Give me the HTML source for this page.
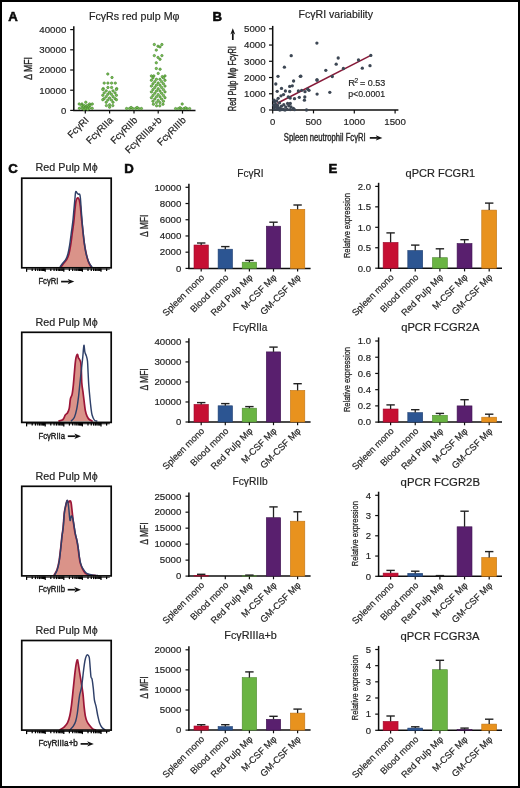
<!DOCTYPE html>
<html><head><meta charset="utf-8"><title>Figure</title>
<style>
html,body{margin:0;padding:0;background:#fff;}
body{width:520px;height:788px;overflow:hidden;}
svg{display:block;font-family:"Liberation Sans", sans-serif;filter:blur(0.35px);}
</style></head><body>
<svg width="520" height="788" viewBox="0 0 520 788">
<rect x="0" y="0" width="520" height="788" fill="#fff"/>
<rect x="1" y="1" width="518" height="786" fill="none" stroke="#000" stroke-width="2"/>
<text x="8.20" y="21.00" font-size="13.2" text-anchor="start" fill="#0a0a0a" font-weight="bold" stroke="#0a0a0a" stroke-width="0.55">A</text>
<text x="134.20" y="19.80" font-size="10.7" text-anchor="middle" fill="#232323" textLength="90.50" lengthAdjust="spacingAndGlyphs"  stroke="#232323" stroke-width="0.18">FcγRs red pulp Mφ</text>
<line x1="73.80" y1="26.30" x2="73.80" y2="110.70" stroke="#0e0e0e" stroke-width="1.5" />
<line x1="73.10" y1="110.40" x2="195.50" y2="110.40" stroke="#0e0e0e" stroke-width="1.5" />
<line x1="70.20" y1="110.40" x2="73.80" y2="110.40" stroke="#0e0e0e" stroke-width="1.2" />
<text x="66.30" y="113.70" font-size="9.5" text-anchor="end" fill="#232323"  stroke="#232323" stroke-width="0.18">0</text>
<line x1="70.20" y1="90.20" x2="73.80" y2="90.20" stroke="#0e0e0e" stroke-width="1.2" />
<text x="66.30" y="93.50" font-size="9.5" text-anchor="end" fill="#232323" textLength="27.00" lengthAdjust="spacingAndGlyphs"  stroke="#232323" stroke-width="0.18">10000</text>
<line x1="70.20" y1="70.00" x2="73.80" y2="70.00" stroke="#0e0e0e" stroke-width="1.2" />
<text x="66.30" y="73.30" font-size="9.5" text-anchor="end" fill="#232323" textLength="27.00" lengthAdjust="spacingAndGlyphs"  stroke="#232323" stroke-width="0.18">20000</text>
<line x1="70.20" y1="49.80" x2="73.80" y2="49.80" stroke="#0e0e0e" stroke-width="1.2" />
<text x="66.30" y="53.10" font-size="9.5" text-anchor="end" fill="#232323" textLength="27.00" lengthAdjust="spacingAndGlyphs"  stroke="#232323" stroke-width="0.18">30000</text>
<line x1="70.20" y1="29.60" x2="73.80" y2="29.60" stroke="#0e0e0e" stroke-width="1.2" />
<text x="66.30" y="32.90" font-size="9.5" text-anchor="end" fill="#232323" textLength="27.00" lengthAdjust="spacingAndGlyphs"  stroke="#232323" stroke-width="0.18">40000</text>
<text x="32.10" y="68.40" font-size="11" text-anchor="middle" fill="#232323" textLength="22.80" lengthAdjust="spacingAndGlyphs" transform="rotate(-90 32.10 68.40)" stroke="#232323" stroke-width="0.35">Δ MFI</text>
<line x1="85.30" y1="110.40" x2="85.30" y2="113.60" stroke="#0e0e0e" stroke-width="1.2" />
<line x1="109.60" y1="110.40" x2="109.60" y2="113.60" stroke="#0e0e0e" stroke-width="1.2" />
<line x1="134.00" y1="110.40" x2="134.00" y2="113.60" stroke="#0e0e0e" stroke-width="1.2" />
<line x1="158.20" y1="110.40" x2="158.20" y2="113.60" stroke="#0e0e0e" stroke-width="1.2" />
<line x1="182.50" y1="110.40" x2="182.50" y2="113.60" stroke="#0e0e0e" stroke-width="1.2" />
<text x="89.30" y="120.80" font-size="9.7" text-anchor="end" fill="#232323" transform="rotate(-45 89.30 120.80)"  stroke="#232323" stroke-width="0.18">FcγRI</text>
<text x="113.60" y="120.80" font-size="9.7" text-anchor="end" fill="#232323" transform="rotate(-45 113.60 120.80)"  stroke="#232323" stroke-width="0.18">FcγRIIa</text>
<text x="138.00" y="120.80" font-size="9.7" text-anchor="end" fill="#232323" transform="rotate(-45 138.00 120.80)"  stroke="#232323" stroke-width="0.18">FcγRIIb</text>
<text x="162.20" y="120.80" font-size="9.7" text-anchor="end" fill="#232323" transform="rotate(-45 162.20 120.80)"  stroke="#232323" stroke-width="0.18">FcγRIIIa+b</text>
<text x="186.50" y="120.80" font-size="9.7" text-anchor="end" fill="#232323" transform="rotate(-45 186.50 120.80)"  stroke="#232323" stroke-width="0.18">FcγRIIIb</text>
<circle cx="85.80" cy="102.20" r="1.2" fill="#7cc456" stroke="#3f7d2a" stroke-width="0.6"/>
<circle cx="79.20" cy="104.00" r="1.2" fill="#7cc456" stroke="#3f7d2a" stroke-width="0.6"/>
<circle cx="82.00" cy="104.00" r="1.2" fill="#7cc456" stroke="#3f7d2a" stroke-width="0.6"/>
<circle cx="89.60" cy="104.00" r="1.2" fill="#7cc456" stroke="#3f7d2a" stroke-width="0.6"/>
<circle cx="92.30" cy="104.00" r="1.2" fill="#7cc456" stroke="#3f7d2a" stroke-width="0.6"/>
<circle cx="81.60" cy="105.50" r="1.2" fill="#7cc456" stroke="#3f7d2a" stroke-width="0.6"/>
<circle cx="84.30" cy="105.50" r="1.2" fill="#7cc456" stroke="#3f7d2a" stroke-width="0.6"/>
<circle cx="87.30" cy="105.50" r="1.2" fill="#7cc456" stroke="#3f7d2a" stroke-width="0.6"/>
<circle cx="90.00" cy="105.50" r="1.2" fill="#7cc456" stroke="#3f7d2a" stroke-width="0.6"/>
<circle cx="83.40" cy="106.90" r="1.2" fill="#7cc456" stroke="#3f7d2a" stroke-width="0.6"/>
<circle cx="86.00" cy="106.90" r="1.2" fill="#7cc456" stroke="#3f7d2a" stroke-width="0.6"/>
<circle cx="88.60" cy="106.90" r="1.2" fill="#7cc456" stroke="#3f7d2a" stroke-width="0.6"/>
<circle cx="79.40" cy="108.30" r="1.2" fill="#7cc456" stroke="#3f7d2a" stroke-width="0.6"/>
<circle cx="82.20" cy="108.30" r="1.2" fill="#7cc456" stroke="#3f7d2a" stroke-width="0.6"/>
<circle cx="85.80" cy="108.30" r="1.2" fill="#7cc456" stroke="#3f7d2a" stroke-width="0.6"/>
<circle cx="89.40" cy="108.30" r="1.2" fill="#7cc456" stroke="#3f7d2a" stroke-width="0.6"/>
<circle cx="92.20" cy="108.30" r="1.2" fill="#7cc456" stroke="#3f7d2a" stroke-width="0.6"/>
<circle cx="84.00" cy="109.30" r="1.2" fill="#7cc456" stroke="#3f7d2a" stroke-width="0.6"/>
<circle cx="87.60" cy="109.30" r="1.2" fill="#7cc456" stroke="#3f7d2a" stroke-width="0.6"/>
<circle cx="107.80" cy="74.00" r="1.2" fill="#7cc456" stroke="#3f7d2a" stroke-width="0.6"/>
<circle cx="112.00" cy="77.50" r="1.2" fill="#7cc456" stroke="#3f7d2a" stroke-width="0.6"/>
<circle cx="104.20" cy="83.10" r="1.2" fill="#7cc456" stroke="#3f7d2a" stroke-width="0.6"/>
<circle cx="107.90" cy="83.10" r="1.2" fill="#7cc456" stroke="#3f7d2a" stroke-width="0.6"/>
<circle cx="111.60" cy="83.10" r="1.2" fill="#7cc456" stroke="#3f7d2a" stroke-width="0.6"/>
<circle cx="115.30" cy="83.10" r="1.2" fill="#7cc456" stroke="#3f7d2a" stroke-width="0.6"/>
<circle cx="107.90" cy="87.50" r="1.2" fill="#7cc456" stroke="#3f7d2a" stroke-width="0.6"/>
<circle cx="111.60" cy="87.50" r="1.2" fill="#7cc456" stroke="#3f7d2a" stroke-width="0.6"/>
<circle cx="103.30" cy="88.60" r="1.2" fill="#7cc456" stroke="#3f7d2a" stroke-width="0.6"/>
<circle cx="116.70" cy="88.60" r="1.2" fill="#7cc456" stroke="#3f7d2a" stroke-width="0.6"/>
<circle cx="102.80" cy="89.48" r="1.2" fill="#7cc456" stroke="#3f7d2a" stroke-width="0.6"/>
<circle cx="106.20" cy="90.84" r="1.2" fill="#7cc456" stroke="#3f7d2a" stroke-width="0.6"/>
<circle cx="109.60" cy="92.20" r="1.2" fill="#7cc456" stroke="#3f7d2a" stroke-width="0.6"/>
<circle cx="113.00" cy="90.84" r="1.2" fill="#7cc456" stroke="#3f7d2a" stroke-width="0.6"/>
<circle cx="116.40" cy="89.48" r="1.2" fill="#7cc456" stroke="#3f7d2a" stroke-width="0.6"/>
<circle cx="104.20" cy="92.84" r="1.2" fill="#7cc456" stroke="#3f7d2a" stroke-width="0.6"/>
<circle cx="107.80" cy="94.28" r="1.2" fill="#7cc456" stroke="#3f7d2a" stroke-width="0.6"/>
<circle cx="111.40" cy="94.28" r="1.2" fill="#7cc456" stroke="#3f7d2a" stroke-width="0.6"/>
<circle cx="115.00" cy="92.84" r="1.2" fill="#7cc456" stroke="#3f7d2a" stroke-width="0.6"/>
<circle cx="102.80" cy="95.28" r="1.2" fill="#7cc456" stroke="#3f7d2a" stroke-width="0.6"/>
<circle cx="106.20" cy="96.64" r="1.2" fill="#7cc456" stroke="#3f7d2a" stroke-width="0.6"/>
<circle cx="109.60" cy="98.00" r="1.2" fill="#7cc456" stroke="#3f7d2a" stroke-width="0.6"/>
<circle cx="113.00" cy="96.64" r="1.2" fill="#7cc456" stroke="#3f7d2a" stroke-width="0.6"/>
<circle cx="116.40" cy="95.28" r="1.2" fill="#7cc456" stroke="#3f7d2a" stroke-width="0.6"/>
<circle cx="104.20" cy="98.64" r="1.2" fill="#7cc456" stroke="#3f7d2a" stroke-width="0.6"/>
<circle cx="107.80" cy="100.08" r="1.2" fill="#7cc456" stroke="#3f7d2a" stroke-width="0.6"/>
<circle cx="111.40" cy="100.08" r="1.2" fill="#7cc456" stroke="#3f7d2a" stroke-width="0.6"/>
<circle cx="115.00" cy="98.64" r="1.2" fill="#7cc456" stroke="#3f7d2a" stroke-width="0.6"/>
<circle cx="102.80" cy="99.70" r="1.2" fill="#7cc456" stroke="#3f7d2a" stroke-width="0.6"/>
<circle cx="106.20" cy="102.25" r="1.2" fill="#7cc456" stroke="#3f7d2a" stroke-width="0.6"/>
<circle cx="109.60" cy="104.80" r="1.2" fill="#7cc456" stroke="#3f7d2a" stroke-width="0.6"/>
<circle cx="113.00" cy="102.25" r="1.2" fill="#7cc456" stroke="#3f7d2a" stroke-width="0.6"/>
<circle cx="116.40" cy="99.70" r="1.2" fill="#7cc456" stroke="#3f7d2a" stroke-width="0.6"/>
<circle cx="106.40" cy="105.60" r="1.2" fill="#7cc456" stroke="#3f7d2a" stroke-width="0.6"/>
<circle cx="109.60" cy="107.20" r="1.2" fill="#7cc456" stroke="#3f7d2a" stroke-width="0.6"/>
<circle cx="112.80" cy="105.60" r="1.2" fill="#7cc456" stroke="#3f7d2a" stroke-width="0.6"/>
<circle cx="126.60" cy="108.50" r="1.2" fill="#7cc456" stroke="#3f7d2a" stroke-width="0.6"/>
<circle cx="129.60" cy="108.50" r="1.2" fill="#7cc456" stroke="#3f7d2a" stroke-width="0.6"/>
<circle cx="132.60" cy="108.50" r="1.2" fill="#7cc456" stroke="#3f7d2a" stroke-width="0.6"/>
<circle cx="135.60" cy="108.50" r="1.2" fill="#7cc456" stroke="#3f7d2a" stroke-width="0.6"/>
<circle cx="138.60" cy="108.50" r="1.2" fill="#7cc456" stroke="#3f7d2a" stroke-width="0.6"/>
<circle cx="141.40" cy="108.50" r="1.2" fill="#7cc456" stroke="#3f7d2a" stroke-width="0.6"/>
<circle cx="131.10" cy="107.50" r="1.2" fill="#7cc456" stroke="#3f7d2a" stroke-width="0.6"/>
<circle cx="137.10" cy="107.50" r="1.2" fill="#7cc456" stroke="#3f7d2a" stroke-width="0.6"/>
<circle cx="154.30" cy="44.50" r="1.2" fill="#7cc456" stroke="#3f7d2a" stroke-width="0.6"/>
<circle cx="161.90" cy="44.50" r="1.2" fill="#7cc456" stroke="#3f7d2a" stroke-width="0.6"/>
<circle cx="158.00" cy="46.20" r="1.2" fill="#7cc456" stroke="#3f7d2a" stroke-width="0.6"/>
<circle cx="160.00" cy="46.90" r="1.2" fill="#7cc456" stroke="#3f7d2a" stroke-width="0.6"/>
<circle cx="156.30" cy="50.10" r="1.2" fill="#7cc456" stroke="#3f7d2a" stroke-width="0.6"/>
<circle cx="154.30" cy="55.60" r="1.2" fill="#7cc456" stroke="#3f7d2a" stroke-width="0.6"/>
<circle cx="161.90" cy="55.60" r="1.2" fill="#7cc456" stroke="#3f7d2a" stroke-width="0.6"/>
<circle cx="158.00" cy="57.40" r="1.2" fill="#7cc456" stroke="#3f7d2a" stroke-width="0.6"/>
<circle cx="160.00" cy="59.30" r="1.2" fill="#7cc456" stroke="#3f7d2a" stroke-width="0.6"/>
<circle cx="156.30" cy="62.80" r="1.2" fill="#7cc456" stroke="#3f7d2a" stroke-width="0.6"/>
<circle cx="156.30" cy="68.50" r="1.2" fill="#7cc456" stroke="#3f7d2a" stroke-width="0.6"/>
<circle cx="160.10" cy="69.20" r="1.2" fill="#7cc456" stroke="#3f7d2a" stroke-width="0.6"/>
<circle cx="158.20" cy="73.40" r="1.2" fill="#7cc456" stroke="#3f7d2a" stroke-width="0.6"/>
<circle cx="151.40" cy="75.90" r="1.2" fill="#7cc456" stroke="#3f7d2a" stroke-width="0.6"/>
<circle cx="153.80" cy="75.90" r="1.2" fill="#7cc456" stroke="#3f7d2a" stroke-width="0.6"/>
<circle cx="165.00" cy="75.90" r="1.2" fill="#7cc456" stroke="#3f7d2a" stroke-width="0.6"/>
<circle cx="162.30" cy="76.60" r="1.2" fill="#7cc456" stroke="#3f7d2a" stroke-width="0.6"/>
<circle cx="152.95" cy="77.90" r="1.2" fill="#7cc456" stroke="#3f7d2a" stroke-width="0.6"/>
<circle cx="156.45" cy="79.30" r="1.2" fill="#7cc456" stroke="#3f7d2a" stroke-width="0.6"/>
<circle cx="159.95" cy="79.30" r="1.2" fill="#7cc456" stroke="#3f7d2a" stroke-width="0.6"/>
<circle cx="163.45" cy="77.90" r="1.2" fill="#7cc456" stroke="#3f7d2a" stroke-width="0.6"/>
<circle cx="151.40" cy="80.28" r="1.2" fill="#7cc456" stroke="#3f7d2a" stroke-width="0.6"/>
<circle cx="154.80" cy="81.64" r="1.2" fill="#7cc456" stroke="#3f7d2a" stroke-width="0.6"/>
<circle cx="158.20" cy="83.00" r="1.2" fill="#7cc456" stroke="#3f7d2a" stroke-width="0.6"/>
<circle cx="161.60" cy="81.64" r="1.2" fill="#7cc456" stroke="#3f7d2a" stroke-width="0.6"/>
<circle cx="165.00" cy="80.28" r="1.2" fill="#7cc456" stroke="#3f7d2a" stroke-width="0.6"/>
<circle cx="152.95" cy="83.80" r="1.2" fill="#7cc456" stroke="#3f7d2a" stroke-width="0.6"/>
<circle cx="156.45" cy="85.20" r="1.2" fill="#7cc456" stroke="#3f7d2a" stroke-width="0.6"/>
<circle cx="159.95" cy="85.20" r="1.2" fill="#7cc456" stroke="#3f7d2a" stroke-width="0.6"/>
<circle cx="163.45" cy="83.80" r="1.2" fill="#7cc456" stroke="#3f7d2a" stroke-width="0.6"/>
<circle cx="151.40" cy="86.08" r="1.2" fill="#7cc456" stroke="#3f7d2a" stroke-width="0.6"/>
<circle cx="154.80" cy="87.44" r="1.2" fill="#7cc456" stroke="#3f7d2a" stroke-width="0.6"/>
<circle cx="158.20" cy="88.80" r="1.2" fill="#7cc456" stroke="#3f7d2a" stroke-width="0.6"/>
<circle cx="161.60" cy="87.44" r="1.2" fill="#7cc456" stroke="#3f7d2a" stroke-width="0.6"/>
<circle cx="165.00" cy="86.08" r="1.2" fill="#7cc456" stroke="#3f7d2a" stroke-width="0.6"/>
<circle cx="152.95" cy="89.60" r="1.2" fill="#7cc456" stroke="#3f7d2a" stroke-width="0.6"/>
<circle cx="156.45" cy="91.00" r="1.2" fill="#7cc456" stroke="#3f7d2a" stroke-width="0.6"/>
<circle cx="159.95" cy="91.00" r="1.2" fill="#7cc456" stroke="#3f7d2a" stroke-width="0.6"/>
<circle cx="163.45" cy="89.60" r="1.2" fill="#7cc456" stroke="#3f7d2a" stroke-width="0.6"/>
<circle cx="151.40" cy="91.88" r="1.2" fill="#7cc456" stroke="#3f7d2a" stroke-width="0.6"/>
<circle cx="154.80" cy="93.24" r="1.2" fill="#7cc456" stroke="#3f7d2a" stroke-width="0.6"/>
<circle cx="158.20" cy="94.60" r="1.2" fill="#7cc456" stroke="#3f7d2a" stroke-width="0.6"/>
<circle cx="161.60" cy="93.24" r="1.2" fill="#7cc456" stroke="#3f7d2a" stroke-width="0.6"/>
<circle cx="165.00" cy="91.88" r="1.2" fill="#7cc456" stroke="#3f7d2a" stroke-width="0.6"/>
<circle cx="152.95" cy="95.40" r="1.2" fill="#7cc456" stroke="#3f7d2a" stroke-width="0.6"/>
<circle cx="156.45" cy="96.80" r="1.2" fill="#7cc456" stroke="#3f7d2a" stroke-width="0.6"/>
<circle cx="159.95" cy="96.80" r="1.2" fill="#7cc456" stroke="#3f7d2a" stroke-width="0.6"/>
<circle cx="163.45" cy="95.40" r="1.2" fill="#7cc456" stroke="#3f7d2a" stroke-width="0.6"/>
<circle cx="151.40" cy="97.68" r="1.2" fill="#7cc456" stroke="#3f7d2a" stroke-width="0.6"/>
<circle cx="154.80" cy="99.04" r="1.2" fill="#7cc456" stroke="#3f7d2a" stroke-width="0.6"/>
<circle cx="158.20" cy="100.40" r="1.2" fill="#7cc456" stroke="#3f7d2a" stroke-width="0.6"/>
<circle cx="161.60" cy="99.04" r="1.2" fill="#7cc456" stroke="#3f7d2a" stroke-width="0.6"/>
<circle cx="165.00" cy="97.68" r="1.2" fill="#7cc456" stroke="#3f7d2a" stroke-width="0.6"/>
<circle cx="152.95" cy="101.20" r="1.2" fill="#7cc456" stroke="#3f7d2a" stroke-width="0.6"/>
<circle cx="156.45" cy="102.60" r="1.2" fill="#7cc456" stroke="#3f7d2a" stroke-width="0.6"/>
<circle cx="159.95" cy="102.60" r="1.2" fill="#7cc456" stroke="#3f7d2a" stroke-width="0.6"/>
<circle cx="163.45" cy="101.20" r="1.2" fill="#7cc456" stroke="#3f7d2a" stroke-width="0.6"/>
<circle cx="153.40" cy="104.20" r="1.2" fill="#7cc456" stroke="#3f7d2a" stroke-width="0.6"/>
<circle cx="156.60" cy="105.80" r="1.2" fill="#7cc456" stroke="#3f7d2a" stroke-width="0.6"/>
<circle cx="159.80" cy="105.80" r="1.2" fill="#7cc456" stroke="#3f7d2a" stroke-width="0.6"/>
<circle cx="163.00" cy="104.20" r="1.2" fill="#7cc456" stroke="#3f7d2a" stroke-width="0.6"/>
<circle cx="182.20" cy="104.00" r="1.2" fill="#7cc456" stroke="#3f7d2a" stroke-width="0.6"/>
<circle cx="175.60" cy="108.60" r="1.2" fill="#7cc456" stroke="#3f7d2a" stroke-width="0.6"/>
<circle cx="178.40" cy="108.60" r="1.2" fill="#7cc456" stroke="#3f7d2a" stroke-width="0.6"/>
<circle cx="181.20" cy="108.60" r="1.2" fill="#7cc456" stroke="#3f7d2a" stroke-width="0.6"/>
<circle cx="184.00" cy="108.60" r="1.2" fill="#7cc456" stroke="#3f7d2a" stroke-width="0.6"/>
<circle cx="186.80" cy="108.60" r="1.2" fill="#7cc456" stroke="#3f7d2a" stroke-width="0.6"/>
<circle cx="189.60" cy="108.60" r="1.2" fill="#7cc456" stroke="#3f7d2a" stroke-width="0.6"/>
<circle cx="180.00" cy="107.80" r="1.2" fill="#7cc456" stroke="#3f7d2a" stroke-width="0.6"/>
<circle cx="185.50" cy="107.80" r="1.2" fill="#7cc456" stroke="#3f7d2a" stroke-width="0.6"/>
<text x="212.60" y="20.80" font-size="13.2" text-anchor="start" fill="#0a0a0a" font-weight="bold" stroke="#0a0a0a" stroke-width="0.55">B</text>
<text x="335.80" y="18.30" font-size="10.6" text-anchor="middle" fill="#232323" textLength="74.50" lengthAdjust="spacingAndGlyphs"  stroke="#232323" stroke-width="0.18">FcγRI variability</text>
<line x1="272.70" y1="25.90" x2="272.70" y2="110.70" stroke="#0e0e0e" stroke-width="1.5" />
<line x1="272.00" y1="110.00" x2="398.40" y2="110.00" stroke="#0e0e0e" stroke-width="1.5" />
<line x1="269.00" y1="110.00" x2="272.70" y2="110.00" stroke="#0e0e0e" stroke-width="1.2" />
<text x="265.60" y="113.30" font-size="9.5" text-anchor="end" fill="#232323"  stroke="#232323" stroke-width="0.18">0</text>
<line x1="269.00" y1="93.76" x2="272.70" y2="93.76" stroke="#0e0e0e" stroke-width="1.2" />
<text x="265.60" y="97.06" font-size="9.5" text-anchor="end" fill="#232323" textLength="21.60" lengthAdjust="spacingAndGlyphs"  stroke="#232323" stroke-width="0.18">1000</text>
<line x1="269.00" y1="77.52" x2="272.70" y2="77.52" stroke="#0e0e0e" stroke-width="1.2" />
<text x="265.60" y="80.82" font-size="9.5" text-anchor="end" fill="#232323" textLength="21.60" lengthAdjust="spacingAndGlyphs"  stroke="#232323" stroke-width="0.18">2000</text>
<line x1="269.00" y1="61.28" x2="272.70" y2="61.28" stroke="#0e0e0e" stroke-width="1.2" />
<text x="265.60" y="64.58" font-size="9.5" text-anchor="end" fill="#232323" textLength="21.60" lengthAdjust="spacingAndGlyphs"  stroke="#232323" stroke-width="0.18">3000</text>
<line x1="269.00" y1="45.04" x2="272.70" y2="45.04" stroke="#0e0e0e" stroke-width="1.2" />
<text x="265.60" y="48.34" font-size="9.5" text-anchor="end" fill="#232323" textLength="21.60" lengthAdjust="spacingAndGlyphs"  stroke="#232323" stroke-width="0.18">4000</text>
<line x1="269.00" y1="28.80" x2="272.70" y2="28.80" stroke="#0e0e0e" stroke-width="1.2" />
<text x="265.60" y="32.10" font-size="9.5" text-anchor="end" fill="#232323" textLength="21.60" lengthAdjust="spacingAndGlyphs"  stroke="#232323" stroke-width="0.18">5000</text>
<line x1="272.70" y1="110.00" x2="272.70" y2="113.40" stroke="#0e0e0e" stroke-width="1.2" />
<text x="272.70" y="125.30" font-size="9.5" text-anchor="middle" fill="#232323"  stroke="#232323" stroke-width="0.18">0</text>
<line x1="313.50" y1="110.00" x2="313.50" y2="113.40" stroke="#0e0e0e" stroke-width="1.2" />
<text x="313.50" y="125.30" font-size="9.5" text-anchor="middle" fill="#232323" textLength="16.20" lengthAdjust="spacingAndGlyphs"  stroke="#232323" stroke-width="0.18">500</text>
<line x1="354.30" y1="110.00" x2="354.30" y2="113.40" stroke="#0e0e0e" stroke-width="1.2" />
<text x="354.30" y="125.30" font-size="9.5" text-anchor="middle" fill="#232323" textLength="21.60" lengthAdjust="spacingAndGlyphs"  stroke="#232323" stroke-width="0.18">1000</text>
<line x1="395.10" y1="110.00" x2="395.10" y2="113.40" stroke="#0e0e0e" stroke-width="1.2" />
<text x="395.10" y="125.30" font-size="9.5" text-anchor="middle" fill="#232323" textLength="21.60" lengthAdjust="spacingAndGlyphs"  stroke="#232323" stroke-width="0.18">1500</text>
<text x="236.00" y="111.20" font-size="10" text-anchor="start" fill="#232323" textLength="65.10" lengthAdjust="spacingAndGlyphs" transform="rotate(-90 236.00 111.20)" stroke="#2e2e2e" stroke-width="0.4">Red Pulp Mφ FcγRI</text>
<line x1="232.80" y1="40.00" x2="232.80" y2="33.20" stroke="#111" stroke-width="1.7" />
<path d="M232.80,28.20 L230.40,34.40 L232.80,32.80 L235.20,34.40 Z" fill="#111"/>
<text x="283.80" y="141.10" font-size="10" text-anchor="start" fill="#232323" textLength="81.90" lengthAdjust="spacingAndGlyphs" stroke="#2e2e2e" stroke-width="0.4">Spleen neutrophil FcγRI</text>
<line x1="369.80" y1="137.90" x2="377.00" y2="137.90" stroke="#111" stroke-width="1.7" />
<path d="M382.40,137.90 L375.80,135.20 L377.40,137.90 L375.80,140.60 Z" fill="#111"/>
<line x1="277.30" y1="103.30" x2="370.80" y2="55.40" stroke="#871a39" stroke-width="1.55" />
<circle cx="284.40" cy="67.20" r="1.65" fill="#3d4754"/>
<circle cx="278.00" cy="76.30" r="1.65" fill="#3d4754"/>
<circle cx="300.30" cy="76.30" r="1.65" fill="#3d4754"/>
<circle cx="317.10" cy="80.00" r="1.65" fill="#3d4754"/>
<circle cx="293.60" cy="81.00" r="1.65" fill="#3d4754"/>
<circle cx="275.80" cy="84.00" r="1.65" fill="#3d4754"/>
<circle cx="289.70" cy="86.40" r="1.65" fill="#3d4754"/>
<circle cx="292.30" cy="85.80" r="1.65" fill="#3d4754"/>
<circle cx="281.50" cy="88.40" r="1.65" fill="#3d4754"/>
<circle cx="277.20" cy="91.30" r="1.65" fill="#3d4754"/>
<circle cx="285.40" cy="91.00" r="1.65" fill="#3d4754"/>
<circle cx="289.70" cy="91.50" r="1.65" fill="#3d4754"/>
<circle cx="298.40" cy="91.00" r="1.65" fill="#3d4754"/>
<circle cx="301.70" cy="90.30" r="1.65" fill="#3d4754"/>
<circle cx="305.00" cy="91.70" r="1.65" fill="#3d4754"/>
<circle cx="309.00" cy="90.30" r="1.65" fill="#3d4754"/>
<circle cx="317.10" cy="94.10" r="1.65" fill="#3d4754"/>
<circle cx="283.50" cy="94.60" r="1.65" fill="#3d4754"/>
<circle cx="281.00" cy="95.80" r="1.65" fill="#3d4754"/>
<circle cx="278.20" cy="98.30" r="1.65" fill="#3d4754"/>
<circle cx="288.30" cy="97.00" r="1.65" fill="#3d4754"/>
<circle cx="290.20" cy="98.00" r="1.65" fill="#3d4754"/>
<circle cx="294.50" cy="98.70" r="1.65" fill="#3d4754"/>
<circle cx="299.30" cy="97.30" r="1.65" fill="#3d4754"/>
<circle cx="304.80" cy="97.00" r="1.65" fill="#3d4754"/>
<circle cx="304.40" cy="100.20" r="1.65" fill="#3d4754"/>
<circle cx="316.90" cy="43.10" r="1.65" fill="#3d4754"/>
<circle cx="338.20" cy="58.00" r="1.65" fill="#3d4754"/>
<circle cx="336.20" cy="64.20" r="1.65" fill="#3d4754"/>
<circle cx="325.80" cy="70.30" r="1.65" fill="#3d4754"/>
<circle cx="343.40" cy="68.50" r="1.65" fill="#3d4754"/>
<circle cx="332.30" cy="76.50" r="1.65" fill="#3d4754"/>
<circle cx="316.90" cy="80.00" r="1.65" fill="#3d4754"/>
<circle cx="300.80" cy="76.20" r="1.65" fill="#3d4754"/>
<circle cx="358.50" cy="60.00" r="1.65" fill="#3d4754"/>
<circle cx="362.30" cy="68.20" r="1.65" fill="#3d4754"/>
<circle cx="370.00" cy="65.70" r="1.65" fill="#3d4754"/>
<circle cx="370.80" cy="55.40" r="1.65" fill="#3d4754"/>
<circle cx="307.70" cy="89.20" r="1.65" fill="#3d4754"/>
<circle cx="306.50" cy="110.00" r="1.65" fill="#3d4754"/>
<circle cx="291.20" cy="55.70" r="1.65" fill="#3d4754"/>
<circle cx="329.80" cy="92.30" r="1.65" fill="#3d4754"/>
<circle cx="274.50" cy="102.00" r="1.65" fill="#3d4754"/>
<circle cx="275.70" cy="104.30" r="1.65" fill="#3d4754"/>
<circle cx="274.50" cy="107.00" r="1.65" fill="#3d4754"/>
<circle cx="274.20" cy="109.30" r="1.65" fill="#3d4754"/>
<circle cx="277.60" cy="105.50" r="1.65" fill="#3d4754"/>
<circle cx="279.50" cy="102.80" r="1.65" fill="#3d4754"/>
<circle cx="281.50" cy="106.20" r="1.65" fill="#3d4754"/>
<circle cx="280.30" cy="108.50" r="1.65" fill="#3d4754"/>
<circle cx="283.80" cy="104.70" r="1.65" fill="#3d4754"/>
<circle cx="285.70" cy="107.00" r="1.65" fill="#3d4754"/>
<circle cx="287.60" cy="103.50" r="1.65" fill="#3d4754"/>
<circle cx="288.80" cy="105.80" r="1.65" fill="#3d4754"/>
<circle cx="290.30" cy="103.50" r="1.65" fill="#3d4754"/>
<circle cx="291.00" cy="107.00" r="1.65" fill="#3d4754"/>
<circle cx="293.40" cy="108.50" r="1.65" fill="#3d4754"/>
<circle cx="294.50" cy="109.70" r="1.65" fill="#3d4754"/>
<circle cx="277.20" cy="109.30" r="1.65" fill="#3d4754"/>
<circle cx="283.40" cy="109.50" r="1.65" fill="#3d4754"/>
<circle cx="287.20" cy="109.30" r="1.65" fill="#3d4754"/>
<circle cx="276.50" cy="107.40" r="1.65" fill="#3d4754"/>
<circle cx="278.80" cy="107.80" r="1.65" fill="#3d4754"/>
<circle cx="281.80" cy="109.60" r="1.65" fill="#3d4754"/>
<circle cx="290.20" cy="109.60" r="1.65" fill="#3d4754"/>
<circle cx="274.00" cy="100.20" r="1.65" fill="#3d4754"/>
<circle cx="276.60" cy="101.00" r="1.65" fill="#3d4754"/>
<circle cx="273.80" cy="105.20" r="1.65" fill="#3d4754"/>
<circle cx="285.00" cy="110.00" r="1.65" fill="#3d4754"/>
<circle cx="279.80" cy="110.00" r="1.65" fill="#3d4754"/>
<text x="348.20" y="86.20" font-size="9.5" text-anchor="start" fill="#232323"  stroke="#232323" stroke-width="0.18">R</text>
<text x="354.60" y="82.60" font-size="6.5" text-anchor="start" fill="#232323"  stroke="#232323" stroke-width="0.18">2</text>
<text x="360.00" y="86.20" font-size="9.5" text-anchor="start" fill="#232323" textLength="25.20" lengthAdjust="spacingAndGlyphs"  stroke="#232323" stroke-width="0.18">= 0.53</text>
<text x="348.20" y="96.60" font-size="9.5" text-anchor="start" fill="#232323" textLength="36.90" lengthAdjust="spacingAndGlyphs"  stroke="#232323" stroke-width="0.18">p&lt;0.0001</text>
<text x="8.20" y="172.60" font-size="13.2" text-anchor="start" fill="#0a0a0a" font-weight="bold" stroke="#0a0a0a" stroke-width="0.55">C</text>
<text x="66.65" y="171.40" font-size="10.6" text-anchor="middle" fill="#232323" textLength="62.30" lengthAdjust="spacingAndGlyphs"  stroke="#232323" stroke-width="0.18">Red Pulp Mϕ</text>
<path d="M60.90,267.00 C61.43,266.28 63.12,263.97 64.10,262.70 C65.08,261.43 66.00,260.85 66.80,259.40 C67.60,257.95 68.27,256.33 68.90,254.00 C69.53,251.67 70.05,248.82 70.60,245.40 C71.15,241.98 71.67,237.45 72.20,233.50 C72.73,229.55 73.35,225.65 73.80,221.70 C74.25,217.75 74.55,213.17 74.90,209.80 C75.25,206.43 75.57,203.37 75.90,201.50 C76.23,199.63 76.52,199.18 76.90,198.60 C77.28,198.02 77.80,197.75 78.20,198.00 C78.60,198.25 78.93,198.67 79.30,200.10 C79.67,201.53 80.05,203.72 80.40,206.60 C80.75,209.48 81.00,213.45 81.40,217.40 C81.80,221.35 82.32,225.98 82.80,230.30 C83.28,234.62 83.72,239.35 84.30,243.30 C84.88,247.25 85.62,250.95 86.30,254.00 C86.98,257.05 87.60,259.43 88.40,261.60 C89.20,263.77 90.65,266.10 91.10,267.00 Z" fill="#da9389" stroke="none"/>
<path d="M60.90,267.00 C61.43,266.28 63.12,263.97 64.10,262.70 C65.08,261.43 66.00,260.85 66.80,259.40 C67.60,257.95 68.27,256.33 68.90,254.00 C69.53,251.67 70.05,248.82 70.60,245.40 C71.15,241.98 71.67,237.45 72.20,233.50 C72.73,229.55 73.35,225.65 73.80,221.70 C74.25,217.75 74.55,213.17 74.90,209.80 C75.25,206.43 75.57,203.37 75.90,201.50 C76.23,199.63 76.52,199.18 76.90,198.60 C77.28,198.02 77.80,197.75 78.20,198.00 C78.60,198.25 78.93,198.67 79.30,200.10 C79.67,201.53 80.05,203.72 80.40,206.60 C80.75,209.48 81.00,213.45 81.40,217.40 C81.80,221.35 82.32,225.98 82.80,230.30 C83.28,234.62 83.72,239.35 84.30,243.30 C84.88,247.25 85.62,250.95 86.30,254.00 C86.98,257.05 87.60,259.43 88.40,261.60 C89.20,263.77 90.65,266.10 91.10,267.00" fill="none" stroke="#9c1638" stroke-width="1.7" stroke-linejoin="round"/>
<path d="M59.90,267.00 C60.43,266.28 62.12,263.97 63.10,262.70 C64.08,261.43 65.00,260.85 65.80,259.40 C66.60,257.95 67.27,256.33 67.90,254.00 C68.53,251.67 69.05,248.82 69.60,245.40 C70.15,241.98 70.67,237.45 71.20,233.50 C71.73,229.55 72.35,225.65 72.80,221.70 C73.25,217.75 73.53,213.75 73.90,209.80 C74.27,205.85 74.70,201.02 75.00,198.00 C75.30,194.98 75.35,192.52 75.70,191.70 C76.05,190.88 76.68,192.68 77.10,193.10 C77.52,193.52 77.78,194.02 78.20,194.20 C78.62,194.38 79.23,193.57 79.60,194.20 C79.97,194.83 80.10,195.03 80.40,198.00 C80.70,200.97 81.05,207.33 81.40,212.00 C81.75,216.67 82.05,221.15 82.50,226.00 C82.95,230.85 83.57,236.78 84.10,241.10 C84.63,245.42 85.15,249.02 85.70,251.90 C86.25,254.78 86.77,256.43 87.40,258.40 C88.03,260.37 88.70,262.27 89.50,263.70 C90.30,265.13 91.75,266.45 92.20,267.00" fill="none" stroke="#2f4069" stroke-width="1.45" stroke-linejoin="round"/>
<rect x="21.75" y="178.20" width="89.45" height="89.60" fill="none" stroke="#080808" stroke-width="1.7"/>
<rect x="26.20" y="268.40" width="83.60" height="1.30" fill="#3a3a3a" />
<line x1="26.60" y1="268.40" x2="26.60" y2="271.80" stroke="#000" stroke-width="1.25" />
<line x1="32.20" y1="268.40" x2="32.20" y2="271.00" stroke="#000" stroke-width="1.25" />
<line x1="35.47" y1="268.40" x2="35.47" y2="271.00" stroke="#000" stroke-width="1.25" />
<line x1="37.80" y1="268.40" x2="37.80" y2="271.00" stroke="#000" stroke-width="1.25" />
<line x1="39.60" y1="268.40" x2="39.60" y2="271.00" stroke="#000" stroke-width="1.25" />
<line x1="41.07" y1="268.40" x2="41.07" y2="271.00" stroke="#000" stroke-width="1.25" />
<line x1="42.32" y1="268.40" x2="42.32" y2="271.00" stroke="#000" stroke-width="1.25" />
<line x1="43.40" y1="268.40" x2="43.40" y2="271.00" stroke="#000" stroke-width="1.25" />
<line x1="44.35" y1="268.40" x2="44.35" y2="271.00" stroke="#000" stroke-width="1.25" />
<line x1="45.20" y1="268.40" x2="45.20" y2="271.80" stroke="#000" stroke-width="1.25" />
<line x1="50.80" y1="268.40" x2="50.80" y2="271.00" stroke="#000" stroke-width="1.25" />
<line x1="54.07" y1="268.40" x2="54.07" y2="271.00" stroke="#000" stroke-width="1.25" />
<line x1="56.40" y1="268.40" x2="56.40" y2="271.00" stroke="#000" stroke-width="1.25" />
<line x1="58.20" y1="268.40" x2="58.20" y2="271.00" stroke="#000" stroke-width="1.25" />
<line x1="59.67" y1="268.40" x2="59.67" y2="271.00" stroke="#000" stroke-width="1.25" />
<line x1="60.92" y1="268.40" x2="60.92" y2="271.00" stroke="#000" stroke-width="1.25" />
<line x1="62.00" y1="268.40" x2="62.00" y2="271.00" stroke="#000" stroke-width="1.25" />
<line x1="62.95" y1="268.40" x2="62.95" y2="271.00" stroke="#000" stroke-width="1.25" />
<line x1="63.80" y1="268.40" x2="63.80" y2="271.80" stroke="#000" stroke-width="1.25" />
<line x1="69.40" y1="268.40" x2="69.40" y2="271.00" stroke="#000" stroke-width="1.25" />
<line x1="72.67" y1="268.40" x2="72.67" y2="271.00" stroke="#000" stroke-width="1.25" />
<line x1="75.00" y1="268.40" x2="75.00" y2="271.00" stroke="#000" stroke-width="1.25" />
<line x1="76.80" y1="268.40" x2="76.80" y2="271.00" stroke="#000" stroke-width="1.25" />
<line x1="78.27" y1="268.40" x2="78.27" y2="271.00" stroke="#000" stroke-width="1.25" />
<line x1="79.52" y1="268.40" x2="79.52" y2="271.00" stroke="#000" stroke-width="1.25" />
<line x1="80.60" y1="268.40" x2="80.60" y2="271.00" stroke="#000" stroke-width="1.25" />
<line x1="81.55" y1="268.40" x2="81.55" y2="271.00" stroke="#000" stroke-width="1.25" />
<line x1="82.40" y1="268.40" x2="82.40" y2="271.80" stroke="#000" stroke-width="1.25" />
<line x1="88.00" y1="268.40" x2="88.00" y2="271.00" stroke="#000" stroke-width="1.25" />
<line x1="91.27" y1="268.40" x2="91.27" y2="271.00" stroke="#000" stroke-width="1.25" />
<line x1="93.60" y1="268.40" x2="93.60" y2="271.00" stroke="#000" stroke-width="1.25" />
<line x1="95.40" y1="268.40" x2="95.40" y2="271.00" stroke="#000" stroke-width="1.25" />
<line x1="96.87" y1="268.40" x2="96.87" y2="271.00" stroke="#000" stroke-width="1.25" />
<line x1="98.12" y1="268.40" x2="98.12" y2="271.00" stroke="#000" stroke-width="1.25" />
<line x1="99.20" y1="268.40" x2="99.20" y2="271.00" stroke="#000" stroke-width="1.25" />
<line x1="100.15" y1="268.40" x2="100.15" y2="271.00" stroke="#000" stroke-width="1.25" />
<line x1="101.00" y1="268.40" x2="101.00" y2="271.80" stroke="#000" stroke-width="1.25" />
<line x1="106.60" y1="268.40" x2="106.60" y2="271.00" stroke="#000" stroke-width="1.25" />
<text x="38.40" y="284.00" font-size="9.5" text-anchor="start" fill="#232323" textLength="20.00" lengthAdjust="spacingAndGlyphs" stroke="#232323" stroke-width="0.45">FcγRI</text>
<line x1="61.10" y1="281.60" x2="68.90" y2="281.60" stroke="#111" stroke-width="1.7" />
<path d="M74.30,281.60 L67.70,278.90 L69.30,281.60 L67.70,284.30 Z" fill="#111"/>
<text x="66.65" y="325.50" font-size="10.6" text-anchor="middle" fill="#232323" textLength="62.30" lengthAdjust="spacingAndGlyphs"  stroke="#232323" stroke-width="0.18">Red Pulp Mϕ</text>
<path d="M58.40,421.20 C59.17,420.92 61.85,420.53 63.00,419.50 C64.15,418.47 64.53,416.13 65.30,415.00 C66.07,413.87 66.93,413.85 67.60,412.70 C68.27,411.55 68.83,410.38 69.30,408.10 C69.77,405.82 69.93,401.28 70.40,399.00 C70.87,396.72 71.62,396.68 72.10,394.40 C72.58,392.12 72.92,388.92 73.30,385.30 C73.68,381.68 74.02,376.90 74.40,372.70 C74.78,368.50 75.12,363.15 75.60,360.10 C76.08,357.05 76.83,354.78 77.30,354.40 C77.77,354.02 78.02,356.93 78.40,357.80 C78.78,358.67 79.22,358.83 79.60,359.60 C79.98,360.37 80.42,360.78 80.70,362.40 C80.98,364.02 81.12,365.87 81.30,369.30 C81.48,372.73 81.52,379.20 81.80,383.00 C82.08,386.80 82.62,389.07 83.00,392.10 C83.38,395.13 83.72,398.15 84.10,401.20 C84.48,404.25 84.82,407.92 85.30,410.40 C85.78,412.88 86.33,414.58 87.00,416.10 C87.67,417.62 88.35,418.65 89.30,419.50 C90.25,420.35 92.13,420.92 92.70,421.20 Z" fill="#da9389" stroke="none"/>
<path d="M58.40,421.20 C59.17,420.92 61.85,420.53 63.00,419.50 C64.15,418.47 64.53,416.13 65.30,415.00 C66.07,413.87 66.93,413.85 67.60,412.70 C68.27,411.55 68.83,410.38 69.30,408.10 C69.77,405.82 69.93,401.28 70.40,399.00 C70.87,396.72 71.62,396.68 72.10,394.40 C72.58,392.12 72.92,388.92 73.30,385.30 C73.68,381.68 74.02,376.90 74.40,372.70 C74.78,368.50 75.12,363.15 75.60,360.10 C76.08,357.05 76.83,354.78 77.30,354.40 C77.77,354.02 78.02,356.93 78.40,357.80 C78.78,358.67 79.22,358.83 79.60,359.60 C79.98,360.37 80.42,360.78 80.70,362.40 C80.98,364.02 81.12,365.87 81.30,369.30 C81.48,372.73 81.52,379.20 81.80,383.00 C82.08,386.80 82.62,389.07 83.00,392.10 C83.38,395.13 83.72,398.15 84.10,401.20 C84.48,404.25 84.82,407.92 85.30,410.40 C85.78,412.88 86.33,414.58 87.00,416.10 C87.67,417.62 88.35,418.65 89.30,419.50 C90.25,420.35 92.13,420.92 92.70,421.20" fill="none" stroke="#9c1638" stroke-width="1.7" stroke-linejoin="round"/>
<path d="M71.00,421.20 C71.57,420.53 73.45,419.20 74.40,417.20 C75.35,415.20 76.03,412.43 76.70,409.20 C77.37,405.97 77.92,401.60 78.40,397.80 C78.88,394.00 79.22,390.02 79.60,386.40 C79.98,382.78 80.33,379.53 80.70,376.10 C81.07,372.67 81.45,369.03 81.80,365.80 C82.15,362.57 82.50,359.73 82.80,356.70 C83.10,353.67 83.38,349.47 83.60,347.60 C83.82,345.73 83.88,344.75 84.10,345.50 C84.32,346.25 84.52,350.33 84.90,352.10 C85.28,353.87 85.97,354.57 86.40,356.10 C86.83,357.63 87.22,358.53 87.50,361.30 C87.78,364.07 87.90,368.90 88.10,372.70 C88.30,376.50 88.42,380.10 88.70,384.10 C88.98,388.10 89.42,392.70 89.80,396.70 C90.18,400.70 90.62,405.05 91.00,408.10 C91.38,411.15 91.53,413.00 92.10,415.00 C92.67,417.00 93.53,419.07 94.40,420.10 C95.27,421.13 96.82,421.02 97.30,421.20" fill="none" stroke="#2f4069" stroke-width="1.45" stroke-linejoin="round"/>
<rect x="21.75" y="332.30" width="89.45" height="90.10" fill="none" stroke="#080808" stroke-width="1.7"/>
<rect x="26.20" y="423.00" width="83.60" height="1.30" fill="#3a3a3a" />
<line x1="26.60" y1="423.00" x2="26.60" y2="426.40" stroke="#000" stroke-width="1.25" />
<line x1="32.20" y1="423.00" x2="32.20" y2="425.60" stroke="#000" stroke-width="1.25" />
<line x1="35.47" y1="423.00" x2="35.47" y2="425.60" stroke="#000" stroke-width="1.25" />
<line x1="37.80" y1="423.00" x2="37.80" y2="425.60" stroke="#000" stroke-width="1.25" />
<line x1="39.60" y1="423.00" x2="39.60" y2="425.60" stroke="#000" stroke-width="1.25" />
<line x1="41.07" y1="423.00" x2="41.07" y2="425.60" stroke="#000" stroke-width="1.25" />
<line x1="42.32" y1="423.00" x2="42.32" y2="425.60" stroke="#000" stroke-width="1.25" />
<line x1="43.40" y1="423.00" x2="43.40" y2="425.60" stroke="#000" stroke-width="1.25" />
<line x1="44.35" y1="423.00" x2="44.35" y2="425.60" stroke="#000" stroke-width="1.25" />
<line x1="45.20" y1="423.00" x2="45.20" y2="426.40" stroke="#000" stroke-width="1.25" />
<line x1="50.80" y1="423.00" x2="50.80" y2="425.60" stroke="#000" stroke-width="1.25" />
<line x1="54.07" y1="423.00" x2="54.07" y2="425.60" stroke="#000" stroke-width="1.25" />
<line x1="56.40" y1="423.00" x2="56.40" y2="425.60" stroke="#000" stroke-width="1.25" />
<line x1="58.20" y1="423.00" x2="58.20" y2="425.60" stroke="#000" stroke-width="1.25" />
<line x1="59.67" y1="423.00" x2="59.67" y2="425.60" stroke="#000" stroke-width="1.25" />
<line x1="60.92" y1="423.00" x2="60.92" y2="425.60" stroke="#000" stroke-width="1.25" />
<line x1="62.00" y1="423.00" x2="62.00" y2="425.60" stroke="#000" stroke-width="1.25" />
<line x1="62.95" y1="423.00" x2="62.95" y2="425.60" stroke="#000" stroke-width="1.25" />
<line x1="63.80" y1="423.00" x2="63.80" y2="426.40" stroke="#000" stroke-width="1.25" />
<line x1="69.40" y1="423.00" x2="69.40" y2="425.60" stroke="#000" stroke-width="1.25" />
<line x1="72.67" y1="423.00" x2="72.67" y2="425.60" stroke="#000" stroke-width="1.25" />
<line x1="75.00" y1="423.00" x2="75.00" y2="425.60" stroke="#000" stroke-width="1.25" />
<line x1="76.80" y1="423.00" x2="76.80" y2="425.60" stroke="#000" stroke-width="1.25" />
<line x1="78.27" y1="423.00" x2="78.27" y2="425.60" stroke="#000" stroke-width="1.25" />
<line x1="79.52" y1="423.00" x2="79.52" y2="425.60" stroke="#000" stroke-width="1.25" />
<line x1="80.60" y1="423.00" x2="80.60" y2="425.60" stroke="#000" stroke-width="1.25" />
<line x1="81.55" y1="423.00" x2="81.55" y2="425.60" stroke="#000" stroke-width="1.25" />
<line x1="82.40" y1="423.00" x2="82.40" y2="426.40" stroke="#000" stroke-width="1.25" />
<line x1="88.00" y1="423.00" x2="88.00" y2="425.60" stroke="#000" stroke-width="1.25" />
<line x1="91.27" y1="423.00" x2="91.27" y2="425.60" stroke="#000" stroke-width="1.25" />
<line x1="93.60" y1="423.00" x2="93.60" y2="425.60" stroke="#000" stroke-width="1.25" />
<line x1="95.40" y1="423.00" x2="95.40" y2="425.60" stroke="#000" stroke-width="1.25" />
<line x1="96.87" y1="423.00" x2="96.87" y2="425.60" stroke="#000" stroke-width="1.25" />
<line x1="98.12" y1="423.00" x2="98.12" y2="425.60" stroke="#000" stroke-width="1.25" />
<line x1="99.20" y1="423.00" x2="99.20" y2="425.60" stroke="#000" stroke-width="1.25" />
<line x1="100.15" y1="423.00" x2="100.15" y2="425.60" stroke="#000" stroke-width="1.25" />
<line x1="101.00" y1="423.00" x2="101.00" y2="426.40" stroke="#000" stroke-width="1.25" />
<line x1="106.60" y1="423.00" x2="106.60" y2="425.60" stroke="#000" stroke-width="1.25" />
<text x="38.40" y="438.60" font-size="9.5" text-anchor="start" fill="#232323" textLength="26.70" lengthAdjust="spacingAndGlyphs" stroke="#232323" stroke-width="0.45">FcγRIIa</text>
<line x1="67.80" y1="436.20" x2="75.60" y2="436.20" stroke="#111" stroke-width="1.7" />
<path d="M81.00,436.20 L74.40,433.50 L76.00,436.20 L74.40,438.90 Z" fill="#111"/>
<text x="66.65" y="479.50" font-size="10.6" text-anchor="middle" fill="#232323" textLength="62.30" lengthAdjust="spacingAndGlyphs"  stroke="#232323" stroke-width="0.18">Red Pulp Mϕ</text>
<path d="M54.00,575.10 C54.48,574.25 56.05,572.38 56.90,570.00 C57.75,567.62 58.45,564.62 59.10,560.80 C59.75,556.98 60.32,551.28 60.80,547.10 C61.28,542.92 61.62,538.93 62.00,535.70 C62.38,532.47 62.72,531.52 63.10,527.70 C63.48,523.88 63.92,516.23 64.30,512.80 C64.68,509.37 64.93,509.10 65.40,507.10 C65.87,505.10 66.62,501.55 67.10,500.80 C67.58,500.05 67.82,502.60 68.30,502.60 C68.78,502.60 69.53,500.80 70.00,500.80 C70.47,500.80 70.72,500.60 71.10,502.60 C71.48,504.60 71.92,509.57 72.30,512.80 C72.68,516.03 72.93,518.57 73.40,522.00 C73.87,525.43 74.53,530.35 75.10,533.40 C75.67,536.45 76.32,538.02 76.80,540.30 C77.28,542.58 77.62,544.45 78.00,547.10 C78.38,549.75 78.72,553.53 79.10,556.20 C79.48,558.87 79.73,561.00 80.30,563.10 C80.87,565.20 81.65,567.08 82.50,568.80 C83.35,570.52 84.15,572.35 85.40,573.40 C86.65,574.45 88.28,574.77 90.00,575.10 C91.72,575.43 94.75,575.35 95.70,575.40 Z" fill="#da9389" stroke="none"/>
<path d="M54.00,575.10 C54.48,574.25 56.05,572.38 56.90,570.00 C57.75,567.62 58.45,564.62 59.10,560.80 C59.75,556.98 60.32,551.28 60.80,547.10 C61.28,542.92 61.62,538.93 62.00,535.70 C62.38,532.47 62.72,531.52 63.10,527.70 C63.48,523.88 63.92,516.23 64.30,512.80 C64.68,509.37 64.93,509.10 65.40,507.10 C65.87,505.10 66.62,501.55 67.10,500.80 C67.58,500.05 67.82,502.60 68.30,502.60 C68.78,502.60 69.53,500.80 70.00,500.80 C70.47,500.80 70.72,500.60 71.10,502.60 C71.48,504.60 71.92,509.57 72.30,512.80 C72.68,516.03 72.93,518.57 73.40,522.00 C73.87,525.43 74.53,530.35 75.10,533.40 C75.67,536.45 76.32,538.02 76.80,540.30 C77.28,542.58 77.62,544.45 78.00,547.10 C78.38,549.75 78.72,553.53 79.10,556.20 C79.48,558.87 79.73,561.00 80.30,563.10 C80.87,565.20 81.65,567.08 82.50,568.80 C83.35,570.52 84.15,572.35 85.40,573.40 C86.65,574.45 88.28,574.77 90.00,575.10 C91.72,575.43 94.75,575.35 95.70,575.40" fill="none" stroke="#9c1638" stroke-width="1.7" stroke-linejoin="round"/>
<path d="M54.50,575.20 C54.95,574.33 56.40,572.40 57.20,570.00 C58.00,567.60 58.68,564.62 59.30,560.80 C59.92,556.98 60.43,551.28 60.90,547.10 C61.37,542.92 61.72,538.93 62.10,535.70 C62.48,532.47 62.83,531.32 63.20,527.70 C63.57,524.08 63.97,517.28 64.30,514.00 C64.63,510.72 64.73,510.28 65.20,508.00 C65.67,505.72 66.55,500.63 67.10,500.30 C67.65,499.97 68.02,502.67 68.50,506.00 C68.98,509.33 69.53,518.63 70.00,520.30 C70.47,521.97 70.87,516.38 71.30,516.00 C71.73,515.62 72.18,516.67 72.60,518.00 C73.02,519.33 73.35,521.43 73.80,524.00 C74.25,526.57 74.78,530.68 75.30,533.40 C75.82,536.12 76.43,538.02 76.90,540.30 C77.37,542.58 77.70,544.45 78.10,547.10 C78.50,549.75 78.88,553.53 79.30,556.20 C79.72,558.87 80.03,561.08 80.60,563.10 C81.17,565.12 81.70,566.58 82.70,568.30 C83.70,570.02 84.82,572.27 86.60,573.40 C88.38,574.53 91.50,574.77 93.40,575.10 C95.30,575.43 97.23,575.35 98.00,575.40" fill="none" stroke="#2f4069" stroke-width="1.45" stroke-linejoin="round"/>
<rect x="21.75" y="486.30" width="89.45" height="89.60" fill="none" stroke="#080808" stroke-width="1.7"/>
<rect x="26.20" y="576.50" width="83.60" height="1.30" fill="#3a3a3a" />
<line x1="26.60" y1="576.50" x2="26.60" y2="579.90" stroke="#000" stroke-width="1.25" />
<line x1="32.20" y1="576.50" x2="32.20" y2="579.10" stroke="#000" stroke-width="1.25" />
<line x1="35.47" y1="576.50" x2="35.47" y2="579.10" stroke="#000" stroke-width="1.25" />
<line x1="37.80" y1="576.50" x2="37.80" y2="579.10" stroke="#000" stroke-width="1.25" />
<line x1="39.60" y1="576.50" x2="39.60" y2="579.10" stroke="#000" stroke-width="1.25" />
<line x1="41.07" y1="576.50" x2="41.07" y2="579.10" stroke="#000" stroke-width="1.25" />
<line x1="42.32" y1="576.50" x2="42.32" y2="579.10" stroke="#000" stroke-width="1.25" />
<line x1="43.40" y1="576.50" x2="43.40" y2="579.10" stroke="#000" stroke-width="1.25" />
<line x1="44.35" y1="576.50" x2="44.35" y2="579.10" stroke="#000" stroke-width="1.25" />
<line x1="45.20" y1="576.50" x2="45.20" y2="579.90" stroke="#000" stroke-width="1.25" />
<line x1="50.80" y1="576.50" x2="50.80" y2="579.10" stroke="#000" stroke-width="1.25" />
<line x1="54.07" y1="576.50" x2="54.07" y2="579.10" stroke="#000" stroke-width="1.25" />
<line x1="56.40" y1="576.50" x2="56.40" y2="579.10" stroke="#000" stroke-width="1.25" />
<line x1="58.20" y1="576.50" x2="58.20" y2="579.10" stroke="#000" stroke-width="1.25" />
<line x1="59.67" y1="576.50" x2="59.67" y2="579.10" stroke="#000" stroke-width="1.25" />
<line x1="60.92" y1="576.50" x2="60.92" y2="579.10" stroke="#000" stroke-width="1.25" />
<line x1="62.00" y1="576.50" x2="62.00" y2="579.10" stroke="#000" stroke-width="1.25" />
<line x1="62.95" y1="576.50" x2="62.95" y2="579.10" stroke="#000" stroke-width="1.25" />
<line x1="63.80" y1="576.50" x2="63.80" y2="579.90" stroke="#000" stroke-width="1.25" />
<line x1="69.40" y1="576.50" x2="69.40" y2="579.10" stroke="#000" stroke-width="1.25" />
<line x1="72.67" y1="576.50" x2="72.67" y2="579.10" stroke="#000" stroke-width="1.25" />
<line x1="75.00" y1="576.50" x2="75.00" y2="579.10" stroke="#000" stroke-width="1.25" />
<line x1="76.80" y1="576.50" x2="76.80" y2="579.10" stroke="#000" stroke-width="1.25" />
<line x1="78.27" y1="576.50" x2="78.27" y2="579.10" stroke="#000" stroke-width="1.25" />
<line x1="79.52" y1="576.50" x2="79.52" y2="579.10" stroke="#000" stroke-width="1.25" />
<line x1="80.60" y1="576.50" x2="80.60" y2="579.10" stroke="#000" stroke-width="1.25" />
<line x1="81.55" y1="576.50" x2="81.55" y2="579.10" stroke="#000" stroke-width="1.25" />
<line x1="82.40" y1="576.50" x2="82.40" y2="579.90" stroke="#000" stroke-width="1.25" />
<line x1="88.00" y1="576.50" x2="88.00" y2="579.10" stroke="#000" stroke-width="1.25" />
<line x1="91.27" y1="576.50" x2="91.27" y2="579.10" stroke="#000" stroke-width="1.25" />
<line x1="93.60" y1="576.50" x2="93.60" y2="579.10" stroke="#000" stroke-width="1.25" />
<line x1="95.40" y1="576.50" x2="95.40" y2="579.10" stroke="#000" stroke-width="1.25" />
<line x1="96.87" y1="576.50" x2="96.87" y2="579.10" stroke="#000" stroke-width="1.25" />
<line x1="98.12" y1="576.50" x2="98.12" y2="579.10" stroke="#000" stroke-width="1.25" />
<line x1="99.20" y1="576.50" x2="99.20" y2="579.10" stroke="#000" stroke-width="1.25" />
<line x1="100.15" y1="576.50" x2="100.15" y2="579.10" stroke="#000" stroke-width="1.25" />
<line x1="101.00" y1="576.50" x2="101.00" y2="579.90" stroke="#000" stroke-width="1.25" />
<line x1="106.60" y1="576.50" x2="106.60" y2="579.10" stroke="#000" stroke-width="1.25" />
<text x="38.40" y="592.10" font-size="9.5" text-anchor="start" fill="#232323" textLength="26.60" lengthAdjust="spacingAndGlyphs" stroke="#232323" stroke-width="0.45">FcγRIIb</text>
<line x1="67.70" y1="589.70" x2="75.50" y2="589.70" stroke="#111" stroke-width="1.7" />
<path d="M80.90,589.70 L74.30,587.00 L75.90,589.70 L74.30,592.40 Z" fill="#111"/>
<text x="66.65" y="633.70" font-size="10.6" text-anchor="middle" fill="#232323" textLength="62.30" lengthAdjust="spacingAndGlyphs"  stroke="#232323" stroke-width="0.18">Red Pulp Mϕ</text>
<path d="M59.60,730.10 C60.35,729.62 62.77,728.43 64.10,727.20 C65.43,725.97 66.65,724.60 67.60,722.70 C68.55,720.80 69.13,718.85 69.80,715.80 C70.47,712.75 71.02,708.97 71.60,704.40 C72.18,699.83 72.80,693.17 73.30,688.40 C73.80,683.63 74.17,679.60 74.60,675.80 C75.03,672.00 75.45,668.27 75.90,665.60 C76.35,662.93 76.88,660.00 77.30,659.80 C77.72,659.60 78.02,662.30 78.40,664.40 C78.78,666.50 79.12,669.35 79.60,672.40 C80.08,675.45 80.73,679.08 81.30,682.70 C81.87,686.32 82.53,690.10 83.00,694.10 C83.47,698.10 83.72,703.08 84.10,706.70 C84.48,710.32 84.82,713.33 85.30,715.80 C85.78,718.27 86.33,719.97 87.00,721.50 C87.67,723.03 88.35,723.77 89.30,725.00 C90.25,726.23 91.57,728.05 92.70,728.90 C93.83,729.75 95.53,729.90 96.10,730.10 Z" fill="#da9389" stroke="none"/>
<path d="M59.60,730.10 C60.35,729.62 62.77,728.43 64.10,727.20 C65.43,725.97 66.65,724.60 67.60,722.70 C68.55,720.80 69.13,718.85 69.80,715.80 C70.47,712.75 71.02,708.97 71.60,704.40 C72.18,699.83 72.80,693.17 73.30,688.40 C73.80,683.63 74.17,679.60 74.60,675.80 C75.03,672.00 75.45,668.27 75.90,665.60 C76.35,662.93 76.88,660.00 77.30,659.80 C77.72,659.60 78.02,662.30 78.40,664.40 C78.78,666.50 79.12,669.35 79.60,672.40 C80.08,675.45 80.73,679.08 81.30,682.70 C81.87,686.32 82.53,690.10 83.00,694.10 C83.47,698.10 83.72,703.08 84.10,706.70 C84.48,710.32 84.82,713.33 85.30,715.80 C85.78,718.27 86.33,719.97 87.00,721.50 C87.67,723.03 88.35,723.77 89.30,725.00 C90.25,726.23 91.57,728.05 92.70,728.90 C93.83,729.75 95.53,729.90 96.10,730.10" fill="none" stroke="#9c1638" stroke-width="1.7" stroke-linejoin="round"/>
<path d="M69.80,730.10 C70.38,729.43 72.33,727.53 73.30,726.10 C74.27,724.67 74.93,723.60 75.60,721.50 C76.27,719.40 76.83,716.35 77.30,713.50 C77.77,710.65 78.02,707.43 78.40,704.40 C78.78,701.37 79.12,697.97 79.60,695.30 C80.08,692.63 80.83,690.88 81.30,688.40 C81.77,685.92 82.02,683.45 82.40,680.40 C82.78,677.35 83.18,673.33 83.60,670.10 C84.02,666.87 84.43,663.38 84.90,661.00 C85.37,658.62 85.90,656.80 86.40,655.80 C86.90,654.80 87.42,654.70 87.90,655.00 C88.38,655.30 88.92,655.47 89.30,657.60 C89.68,659.73 89.92,664.57 90.20,667.80 C90.48,671.03 90.68,675.08 91.00,677.00 C91.32,678.92 91.72,677.40 92.10,679.30 C92.48,681.20 92.92,684.98 93.30,688.40 C93.68,691.82 93.93,696.75 94.40,699.80 C94.87,702.85 95.53,704.03 96.10,706.70 C96.67,709.37 97.23,713.13 97.80,715.80 C98.37,718.47 98.83,720.80 99.50,722.70 C100.17,724.60 100.83,725.97 101.80,727.20 C102.77,728.43 104.72,729.62 105.30,730.10" fill="none" stroke="#2f4069" stroke-width="1.45" stroke-linejoin="round"/>
<rect x="21.75" y="640.50" width="89.45" height="89.60" fill="none" stroke="#080808" stroke-width="1.7"/>
<rect x="26.20" y="730.70" width="83.60" height="1.30" fill="#3a3a3a" />
<line x1="26.60" y1="730.70" x2="26.60" y2="734.10" stroke="#000" stroke-width="1.25" />
<line x1="32.20" y1="730.70" x2="32.20" y2="733.30" stroke="#000" stroke-width="1.25" />
<line x1="35.47" y1="730.70" x2="35.47" y2="733.30" stroke="#000" stroke-width="1.25" />
<line x1="37.80" y1="730.70" x2="37.80" y2="733.30" stroke="#000" stroke-width="1.25" />
<line x1="39.60" y1="730.70" x2="39.60" y2="733.30" stroke="#000" stroke-width="1.25" />
<line x1="41.07" y1="730.70" x2="41.07" y2="733.30" stroke="#000" stroke-width="1.25" />
<line x1="42.32" y1="730.70" x2="42.32" y2="733.30" stroke="#000" stroke-width="1.25" />
<line x1="43.40" y1="730.70" x2="43.40" y2="733.30" stroke="#000" stroke-width="1.25" />
<line x1="44.35" y1="730.70" x2="44.35" y2="733.30" stroke="#000" stroke-width="1.25" />
<line x1="45.20" y1="730.70" x2="45.20" y2="734.10" stroke="#000" stroke-width="1.25" />
<line x1="50.80" y1="730.70" x2="50.80" y2="733.30" stroke="#000" stroke-width="1.25" />
<line x1="54.07" y1="730.70" x2="54.07" y2="733.30" stroke="#000" stroke-width="1.25" />
<line x1="56.40" y1="730.70" x2="56.40" y2="733.30" stroke="#000" stroke-width="1.25" />
<line x1="58.20" y1="730.70" x2="58.20" y2="733.30" stroke="#000" stroke-width="1.25" />
<line x1="59.67" y1="730.70" x2="59.67" y2="733.30" stroke="#000" stroke-width="1.25" />
<line x1="60.92" y1="730.70" x2="60.92" y2="733.30" stroke="#000" stroke-width="1.25" />
<line x1="62.00" y1="730.70" x2="62.00" y2="733.30" stroke="#000" stroke-width="1.25" />
<line x1="62.95" y1="730.70" x2="62.95" y2="733.30" stroke="#000" stroke-width="1.25" />
<line x1="63.80" y1="730.70" x2="63.80" y2="734.10" stroke="#000" stroke-width="1.25" />
<line x1="69.40" y1="730.70" x2="69.40" y2="733.30" stroke="#000" stroke-width="1.25" />
<line x1="72.67" y1="730.70" x2="72.67" y2="733.30" stroke="#000" stroke-width="1.25" />
<line x1="75.00" y1="730.70" x2="75.00" y2="733.30" stroke="#000" stroke-width="1.25" />
<line x1="76.80" y1="730.70" x2="76.80" y2="733.30" stroke="#000" stroke-width="1.25" />
<line x1="78.27" y1="730.70" x2="78.27" y2="733.30" stroke="#000" stroke-width="1.25" />
<line x1="79.52" y1="730.70" x2="79.52" y2="733.30" stroke="#000" stroke-width="1.25" />
<line x1="80.60" y1="730.70" x2="80.60" y2="733.30" stroke="#000" stroke-width="1.25" />
<line x1="81.55" y1="730.70" x2="81.55" y2="733.30" stroke="#000" stroke-width="1.25" />
<line x1="82.40" y1="730.70" x2="82.40" y2="734.10" stroke="#000" stroke-width="1.25" />
<line x1="88.00" y1="730.70" x2="88.00" y2="733.30" stroke="#000" stroke-width="1.25" />
<line x1="91.27" y1="730.70" x2="91.27" y2="733.30" stroke="#000" stroke-width="1.25" />
<line x1="93.60" y1="730.70" x2="93.60" y2="733.30" stroke="#000" stroke-width="1.25" />
<line x1="95.40" y1="730.70" x2="95.40" y2="733.30" stroke="#000" stroke-width="1.25" />
<line x1="96.87" y1="730.70" x2="96.87" y2="733.30" stroke="#000" stroke-width="1.25" />
<line x1="98.12" y1="730.70" x2="98.12" y2="733.30" stroke="#000" stroke-width="1.25" />
<line x1="99.20" y1="730.70" x2="99.20" y2="733.30" stroke="#000" stroke-width="1.25" />
<line x1="100.15" y1="730.70" x2="100.15" y2="733.30" stroke="#000" stroke-width="1.25" />
<line x1="101.00" y1="730.70" x2="101.00" y2="734.10" stroke="#000" stroke-width="1.25" />
<line x1="106.60" y1="730.70" x2="106.60" y2="733.30" stroke="#000" stroke-width="1.25" />
<text x="38.40" y="746.30" font-size="9.5" text-anchor="start" fill="#232323" textLength="39.50" lengthAdjust="spacingAndGlyphs" stroke="#232323" stroke-width="0.45">FcγRIIIa+b</text>
<line x1="80.60" y1="743.90" x2="88.40" y2="743.90" stroke="#111" stroke-width="1.7" />
<path d="M93.80,743.90 L87.20,741.20 L88.80,743.90 L87.20,746.60 Z" fill="#111"/>
<text x="124.30" y="172.60" font-size="13.2" text-anchor="start" fill="#0a0a0a" font-weight="bold" stroke="#0a0a0a" stroke-width="0.55">D</text>
<text x="328.40" y="172.60" font-size="13.2" text-anchor="start" fill="#0a0a0a" font-weight="bold" stroke="#0a0a0a" stroke-width="0.55">E</text>
<line x1="188.90" y1="183.70" x2="188.90" y2="269.10" stroke="#0e0e0e" stroke-width="1.5" />
<line x1="188.20" y1="268.40" x2="310.60" y2="268.40" stroke="#0e0e0e" stroke-width="1.5" />
<line x1="185.50" y1="268.40" x2="188.90" y2="268.40" stroke="#0e0e0e" stroke-width="1.2" />
<text x="181.40" y="271.70" font-size="9.5" text-anchor="end" fill="#232323"  stroke="#232323" stroke-width="0.18">0</text>
<line x1="185.50" y1="252.18" x2="188.90" y2="252.18" stroke="#0e0e0e" stroke-width="1.2" />
<text x="181.40" y="255.48" font-size="9.5" text-anchor="end" fill="#232323" textLength="21.60" lengthAdjust="spacingAndGlyphs"  stroke="#232323" stroke-width="0.18">2000</text>
<line x1="185.50" y1="235.96" x2="188.90" y2="235.96" stroke="#0e0e0e" stroke-width="1.2" />
<text x="181.40" y="239.26" font-size="9.5" text-anchor="end" fill="#232323" textLength="21.60" lengthAdjust="spacingAndGlyphs"  stroke="#232323" stroke-width="0.18">4000</text>
<line x1="185.50" y1="219.74" x2="188.90" y2="219.74" stroke="#0e0e0e" stroke-width="1.2" />
<text x="181.40" y="223.04" font-size="9.5" text-anchor="end" fill="#232323" textLength="21.60" lengthAdjust="spacingAndGlyphs"  stroke="#232323" stroke-width="0.18">6000</text>
<line x1="185.50" y1="203.52" x2="188.90" y2="203.52" stroke="#0e0e0e" stroke-width="1.2" />
<text x="181.40" y="206.82" font-size="9.5" text-anchor="end" fill="#232323" textLength="21.60" lengthAdjust="spacingAndGlyphs"  stroke="#232323" stroke-width="0.18">8000</text>
<line x1="185.50" y1="187.30" x2="188.90" y2="187.30" stroke="#0e0e0e" stroke-width="1.2" />
<text x="181.40" y="190.60" font-size="9.5" text-anchor="end" fill="#232323" textLength="27.00" lengthAdjust="spacingAndGlyphs"  stroke="#232323" stroke-width="0.18">10000</text>
<line x1="201.20" y1="268.40" x2="201.20" y2="271.60" stroke="#0e0e0e" stroke-width="1.2" />
<rect x="194.00" y="245.00" width="14.40" height="23.40" fill="#c60f33" stroke="#9c0c2e" stroke-width="0.6"/>
<line x1="201.20" y1="245.00" x2="201.20" y2="243.00" stroke="#222" stroke-width="1.3" />
<line x1="197.00" y1="243.00" x2="205.40" y2="243.00" stroke="#222" stroke-width="1.4" />
<text x="205.00" y="278.00" font-size="9.3" text-anchor="end" fill="#232323" transform="rotate(-45 205.00 278.00)"  stroke="#232323" stroke-width="0.18">Spleen mono</text>
<line x1="225.30" y1="268.40" x2="225.30" y2="271.60" stroke="#0e0e0e" stroke-width="1.2" />
<rect x="218.10" y="249.20" width="14.40" height="19.20" fill="#2c5592" stroke="#1f3f70" stroke-width="0.6"/>
<line x1="225.30" y1="249.20" x2="225.30" y2="246.60" stroke="#222" stroke-width="1.3" />
<line x1="221.10" y1="246.60" x2="229.50" y2="246.60" stroke="#222" stroke-width="1.4" />
<text x="229.10" y="278.00" font-size="9.3" text-anchor="end" fill="#232323" transform="rotate(-45 229.10 278.00)"  stroke="#232323" stroke-width="0.18">Blood mono</text>
<line x1="249.40" y1="268.40" x2="249.40" y2="271.60" stroke="#0e0e0e" stroke-width="1.2" />
<rect x="242.20" y="262.20" width="14.40" height="6.20" fill="#6ab443" stroke="#4f8a30" stroke-width="0.6"/>
<line x1="249.40" y1="262.20" x2="249.40" y2="260.40" stroke="#222" stroke-width="1.3" />
<line x1="245.20" y1="260.40" x2="253.60" y2="260.40" stroke="#222" stroke-width="1.4" />
<text x="253.20" y="278.00" font-size="9.3" text-anchor="end" fill="#232323" transform="rotate(-45 253.20 278.00)"  stroke="#232323" stroke-width="0.18">Red Pulp Mφ</text>
<line x1="273.50" y1="268.40" x2="273.50" y2="271.60" stroke="#0e0e0e" stroke-width="1.2" />
<rect x="266.30" y="226.20" width="14.40" height="42.20" fill="#591f6e" stroke="#3f1450" stroke-width="0.6"/>
<line x1="273.50" y1="226.20" x2="273.50" y2="222.20" stroke="#222" stroke-width="1.3" />
<line x1="269.30" y1="222.20" x2="277.70" y2="222.20" stroke="#222" stroke-width="1.4" />
<text x="277.30" y="278.00" font-size="9.3" text-anchor="end" fill="#232323" transform="rotate(-45 277.30 278.00)"  stroke="#232323" stroke-width="0.18">M-CSF Mφ</text>
<line x1="297.60" y1="268.40" x2="297.60" y2="271.60" stroke="#0e0e0e" stroke-width="1.2" />
<rect x="290.40" y="209.30" width="14.40" height="59.10" fill="#e8921e" stroke="#c07414" stroke-width="0.6"/>
<line x1="297.60" y1="209.30" x2="297.60" y2="205.00" stroke="#222" stroke-width="1.3" />
<line x1="293.40" y1="205.00" x2="301.80" y2="205.00" stroke="#222" stroke-width="1.4" />
<text x="301.40" y="278.00" font-size="9.3" text-anchor="end" fill="#232323" transform="rotate(-45 301.40 278.00)"  stroke="#232323" stroke-width="0.18">GM-CSF Mφ</text>
<text x="250.40" y="176.90" font-size="10.6" text-anchor="middle" fill="#232323" textLength="26.20" lengthAdjust="spacingAndGlyphs"  stroke="#232323" stroke-width="0.18">FcγRI</text>
<text x="147.70" y="225.80" font-size="11" text-anchor="middle" fill="#232323" textLength="22.30" lengthAdjust="spacingAndGlyphs" transform="rotate(-90 147.70 225.80)" stroke="#232323" stroke-width="0.3">Δ MFI</text>
<line x1="188.90" y1="338.30" x2="188.90" y2="422.70" stroke="#0e0e0e" stroke-width="1.5" />
<line x1="188.20" y1="422.00" x2="310.60" y2="422.00" stroke="#0e0e0e" stroke-width="1.5" />
<line x1="185.50" y1="422.00" x2="188.90" y2="422.00" stroke="#0e0e0e" stroke-width="1.2" />
<text x="181.40" y="425.30" font-size="9.5" text-anchor="end" fill="#232323"  stroke="#232323" stroke-width="0.18">0</text>
<line x1="185.50" y1="401.98" x2="188.90" y2="401.98" stroke="#0e0e0e" stroke-width="1.2" />
<text x="181.40" y="405.28" font-size="9.5" text-anchor="end" fill="#232323" textLength="27.00" lengthAdjust="spacingAndGlyphs"  stroke="#232323" stroke-width="0.18">10000</text>
<line x1="185.50" y1="381.95" x2="188.90" y2="381.95" stroke="#0e0e0e" stroke-width="1.2" />
<text x="181.40" y="385.25" font-size="9.5" text-anchor="end" fill="#232323" textLength="27.00" lengthAdjust="spacingAndGlyphs"  stroke="#232323" stroke-width="0.18">20000</text>
<line x1="185.50" y1="361.93" x2="188.90" y2="361.93" stroke="#0e0e0e" stroke-width="1.2" />
<text x="181.40" y="365.23" font-size="9.5" text-anchor="end" fill="#232323" textLength="27.00" lengthAdjust="spacingAndGlyphs"  stroke="#232323" stroke-width="0.18">30000</text>
<line x1="185.50" y1="341.90" x2="188.90" y2="341.90" stroke="#0e0e0e" stroke-width="1.2" />
<text x="181.40" y="345.20" font-size="9.5" text-anchor="end" fill="#232323" textLength="27.00" lengthAdjust="spacingAndGlyphs"  stroke="#232323" stroke-width="0.18">40000</text>
<line x1="201.20" y1="422.00" x2="201.20" y2="425.20" stroke="#0e0e0e" stroke-width="1.2" />
<rect x="194.00" y="404.40" width="14.40" height="17.60" fill="#c60f33" stroke="#9c0c2e" stroke-width="0.6"/>
<line x1="201.20" y1="404.40" x2="201.20" y2="402.60" stroke="#222" stroke-width="1.3" />
<line x1="197.00" y1="402.60" x2="205.40" y2="402.60" stroke="#222" stroke-width="1.4" />
<text x="205.00" y="431.60" font-size="9.3" text-anchor="end" fill="#232323" transform="rotate(-45 205.00 431.60)"  stroke="#232323" stroke-width="0.18">Spleen mono</text>
<line x1="225.30" y1="422.00" x2="225.30" y2="425.20" stroke="#0e0e0e" stroke-width="1.2" />
<rect x="218.10" y="405.80" width="14.40" height="16.20" fill="#2c5592" stroke="#1f3f70" stroke-width="0.6"/>
<line x1="225.30" y1="405.80" x2="225.30" y2="403.60" stroke="#222" stroke-width="1.3" />
<line x1="221.10" y1="403.60" x2="229.50" y2="403.60" stroke="#222" stroke-width="1.4" />
<text x="229.10" y="431.60" font-size="9.3" text-anchor="end" fill="#232323" transform="rotate(-45 229.10 431.60)"  stroke="#232323" stroke-width="0.18">Blood mono</text>
<line x1="249.40" y1="422.00" x2="249.40" y2="425.20" stroke="#0e0e0e" stroke-width="1.2" />
<rect x="242.20" y="408.20" width="14.40" height="13.80" fill="#6ab443" stroke="#4f8a30" stroke-width="0.6"/>
<line x1="249.40" y1="408.20" x2="249.40" y2="406.60" stroke="#222" stroke-width="1.3" />
<line x1="245.20" y1="406.60" x2="253.60" y2="406.60" stroke="#222" stroke-width="1.4" />
<text x="253.20" y="431.60" font-size="9.3" text-anchor="end" fill="#232323" transform="rotate(-45 253.20 431.60)"  stroke="#232323" stroke-width="0.18">Red Pulp Mφ</text>
<line x1="273.50" y1="422.00" x2="273.50" y2="425.20" stroke="#0e0e0e" stroke-width="1.2" />
<rect x="266.30" y="351.90" width="14.40" height="70.10" fill="#591f6e" stroke="#3f1450" stroke-width="0.6"/>
<line x1="273.50" y1="351.90" x2="273.50" y2="347.10" stroke="#222" stroke-width="1.3" />
<line x1="269.30" y1="347.10" x2="277.70" y2="347.10" stroke="#222" stroke-width="1.4" />
<text x="277.30" y="431.60" font-size="9.3" text-anchor="end" fill="#232323" transform="rotate(-45 277.30 431.60)"  stroke="#232323" stroke-width="0.18">M-CSF Mφ</text>
<line x1="297.60" y1="422.00" x2="297.60" y2="425.20" stroke="#0e0e0e" stroke-width="1.2" />
<rect x="290.40" y="390.40" width="14.40" height="31.60" fill="#e8921e" stroke="#c07414" stroke-width="0.6"/>
<line x1="297.60" y1="390.40" x2="297.60" y2="383.70" stroke="#222" stroke-width="1.3" />
<line x1="293.40" y1="383.70" x2="301.80" y2="383.70" stroke="#222" stroke-width="1.4" />
<text x="301.40" y="431.60" font-size="9.3" text-anchor="end" fill="#232323" transform="rotate(-45 301.40 431.60)"  stroke="#232323" stroke-width="0.18">GM-CSF Mφ</text>
<text x="250.10" y="330.90" font-size="10.6" text-anchor="middle" fill="#232323" textLength="34.60" lengthAdjust="spacingAndGlyphs"  stroke="#232323" stroke-width="0.18">FcγRIIa</text>
<text x="147.70" y="379.40" font-size="11" text-anchor="middle" fill="#232323" textLength="22.30" lengthAdjust="spacingAndGlyphs" transform="rotate(-90 147.70 379.40)" stroke="#232323" stroke-width="0.3">Δ MFI</text>
<line x1="188.90" y1="492.60" x2="188.90" y2="576.80" stroke="#0e0e0e" stroke-width="1.5" />
<line x1="188.20" y1="576.10" x2="310.60" y2="576.10" stroke="#0e0e0e" stroke-width="1.5" />
<line x1="185.50" y1="576.10" x2="188.90" y2="576.10" stroke="#0e0e0e" stroke-width="1.2" />
<text x="181.40" y="579.40" font-size="9.5" text-anchor="end" fill="#232323"  stroke="#232323" stroke-width="0.18">0</text>
<line x1="185.50" y1="560.12" x2="188.90" y2="560.12" stroke="#0e0e0e" stroke-width="1.2" />
<text x="181.40" y="563.42" font-size="9.5" text-anchor="end" fill="#232323" textLength="21.60" lengthAdjust="spacingAndGlyphs"  stroke="#232323" stroke-width="0.18">5000</text>
<line x1="185.50" y1="544.14" x2="188.90" y2="544.14" stroke="#0e0e0e" stroke-width="1.2" />
<text x="181.40" y="547.44" font-size="9.5" text-anchor="end" fill="#232323" textLength="27.00" lengthAdjust="spacingAndGlyphs"  stroke="#232323" stroke-width="0.18">10000</text>
<line x1="185.50" y1="528.16" x2="188.90" y2="528.16" stroke="#0e0e0e" stroke-width="1.2" />
<text x="181.40" y="531.46" font-size="9.5" text-anchor="end" fill="#232323" textLength="27.00" lengthAdjust="spacingAndGlyphs"  stroke="#232323" stroke-width="0.18">15000</text>
<line x1="185.50" y1="512.18" x2="188.90" y2="512.18" stroke="#0e0e0e" stroke-width="1.2" />
<text x="181.40" y="515.48" font-size="9.5" text-anchor="end" fill="#232323" textLength="27.00" lengthAdjust="spacingAndGlyphs"  stroke="#232323" stroke-width="0.18">20000</text>
<line x1="185.50" y1="496.20" x2="188.90" y2="496.20" stroke="#0e0e0e" stroke-width="1.2" />
<text x="181.40" y="499.50" font-size="9.5" text-anchor="end" fill="#232323" textLength="27.00" lengthAdjust="spacingAndGlyphs"  stroke="#232323" stroke-width="0.18">25000</text>
<line x1="201.20" y1="576.10" x2="201.20" y2="579.30" stroke="#0e0e0e" stroke-width="1.2" />
<rect x="194.00" y="575.60" width="14.40" height="0.50" fill="#c60f33" stroke="#9c0c2e" stroke-width="0.6"/>
<line x1="201.20" y1="575.60" x2="201.20" y2="574.30" stroke="#222" stroke-width="1.3" />
<line x1="197.00" y1="574.30" x2="205.40" y2="574.30" stroke="#222" stroke-width="1.4" />
<text x="205.00" y="585.70" font-size="9.3" text-anchor="end" fill="#232323" transform="rotate(-45 205.00 585.70)"  stroke="#232323" stroke-width="0.18">Spleen mono</text>
<line x1="225.30" y1="576.10" x2="225.30" y2="579.30" stroke="#0e0e0e" stroke-width="1.2" />
<text x="229.10" y="585.70" font-size="9.3" text-anchor="end" fill="#232323" transform="rotate(-45 229.10 585.70)"  stroke="#232323" stroke-width="0.18">Blood mono</text>
<line x1="249.40" y1="576.10" x2="249.40" y2="579.30" stroke="#0e0e0e" stroke-width="1.2" />
<rect x="242.20" y="575.80" width="14.40" height="0.30" fill="#6ab443" stroke="#4f8a30" stroke-width="0.6"/>
<line x1="249.40" y1="575.80" x2="249.40" y2="575.10" stroke="#222" stroke-width="1.3" />
<line x1="245.20" y1="575.10" x2="253.60" y2="575.10" stroke="#222" stroke-width="1.4" />
<text x="253.20" y="585.70" font-size="9.3" text-anchor="end" fill="#232323" transform="rotate(-45 253.20 585.70)"  stroke="#232323" stroke-width="0.18">Red Pulp Mφ</text>
<line x1="273.50" y1="576.10" x2="273.50" y2="579.30" stroke="#0e0e0e" stroke-width="1.2" />
<rect x="266.30" y="517.70" width="14.40" height="58.40" fill="#591f6e" stroke="#3f1450" stroke-width="0.6"/>
<line x1="273.50" y1="517.70" x2="273.50" y2="506.90" stroke="#222" stroke-width="1.3" />
<line x1="269.30" y1="506.90" x2="277.70" y2="506.90" stroke="#222" stroke-width="1.4" />
<text x="277.30" y="585.70" font-size="9.3" text-anchor="end" fill="#232323" transform="rotate(-45 277.30 585.70)"  stroke="#232323" stroke-width="0.18">M-CSF Mφ</text>
<line x1="297.60" y1="576.10" x2="297.60" y2="579.30" stroke="#0e0e0e" stroke-width="1.2" />
<rect x="290.40" y="521.20" width="14.40" height="54.90" fill="#e8921e" stroke="#c07414" stroke-width="0.6"/>
<line x1="297.60" y1="521.20" x2="297.60" y2="511.80" stroke="#222" stroke-width="1.3" />
<line x1="293.40" y1="511.80" x2="301.80" y2="511.80" stroke="#222" stroke-width="1.4" />
<text x="301.40" y="585.70" font-size="9.3" text-anchor="end" fill="#232323" transform="rotate(-45 301.40 585.70)"  stroke="#232323" stroke-width="0.18">GM-CSF Mφ</text>
<text x="250.10" y="484.90" font-size="10.6" text-anchor="middle" fill="#232323" textLength="35.30" lengthAdjust="spacingAndGlyphs"  stroke="#232323" stroke-width="0.18">FcγRIIb</text>
<text x="147.70" y="533.50" font-size="11" text-anchor="middle" fill="#232323" textLength="22.30" lengthAdjust="spacingAndGlyphs" transform="rotate(-90 147.70 533.50)" stroke="#232323" stroke-width="0.3">Δ MFI</text>
<line x1="188.90" y1="646.20" x2="188.90" y2="730.80" stroke="#0e0e0e" stroke-width="1.5" />
<line x1="188.20" y1="730.10" x2="310.60" y2="730.10" stroke="#0e0e0e" stroke-width="1.5" />
<line x1="185.50" y1="730.10" x2="188.90" y2="730.10" stroke="#0e0e0e" stroke-width="1.2" />
<text x="181.40" y="733.40" font-size="9.5" text-anchor="end" fill="#232323"  stroke="#232323" stroke-width="0.18">0</text>
<line x1="185.50" y1="710.02" x2="188.90" y2="710.02" stroke="#0e0e0e" stroke-width="1.2" />
<text x="181.40" y="713.32" font-size="9.5" text-anchor="end" fill="#232323" textLength="21.60" lengthAdjust="spacingAndGlyphs"  stroke="#232323" stroke-width="0.18">5000</text>
<line x1="185.50" y1="689.95" x2="188.90" y2="689.95" stroke="#0e0e0e" stroke-width="1.2" />
<text x="181.40" y="693.25" font-size="9.5" text-anchor="end" fill="#232323" textLength="27.00" lengthAdjust="spacingAndGlyphs"  stroke="#232323" stroke-width="0.18">10000</text>
<line x1="185.50" y1="669.88" x2="188.90" y2="669.88" stroke="#0e0e0e" stroke-width="1.2" />
<text x="181.40" y="673.17" font-size="9.5" text-anchor="end" fill="#232323" textLength="27.00" lengthAdjust="spacingAndGlyphs"  stroke="#232323" stroke-width="0.18">15000</text>
<line x1="185.50" y1="649.80" x2="188.90" y2="649.80" stroke="#0e0e0e" stroke-width="1.2" />
<text x="181.40" y="653.10" font-size="9.5" text-anchor="end" fill="#232323" textLength="27.00" lengthAdjust="spacingAndGlyphs"  stroke="#232323" stroke-width="0.18">20000</text>
<line x1="201.20" y1="730.10" x2="201.20" y2="733.30" stroke="#0e0e0e" stroke-width="1.2" />
<rect x="194.00" y="726.00" width="14.40" height="4.10" fill="#c60f33" stroke="#9c0c2e" stroke-width="0.6"/>
<line x1="201.20" y1="726.00" x2="201.20" y2="724.70" stroke="#222" stroke-width="1.3" />
<line x1="197.00" y1="724.70" x2="205.40" y2="724.70" stroke="#222" stroke-width="1.4" />
<text x="205.00" y="739.70" font-size="9.3" text-anchor="end" fill="#232323" transform="rotate(-45 205.00 739.70)"  stroke="#232323" stroke-width="0.18">Spleen mono</text>
<line x1="225.30" y1="730.10" x2="225.30" y2="733.30" stroke="#0e0e0e" stroke-width="1.2" />
<rect x="218.10" y="726.60" width="14.40" height="3.50" fill="#2c5592" stroke="#1f3f70" stroke-width="0.6"/>
<line x1="225.30" y1="726.60" x2="225.30" y2="724.70" stroke="#222" stroke-width="1.3" />
<line x1="221.10" y1="724.70" x2="229.50" y2="724.70" stroke="#222" stroke-width="1.4" />
<text x="229.10" y="739.70" font-size="9.3" text-anchor="end" fill="#232323" transform="rotate(-45 229.10 739.70)"  stroke="#232323" stroke-width="0.18">Blood mono</text>
<line x1="249.40" y1="730.10" x2="249.40" y2="733.30" stroke="#0e0e0e" stroke-width="1.2" />
<rect x="242.20" y="677.60" width="14.40" height="52.50" fill="#6ab443" stroke="#4f8a30" stroke-width="0.6"/>
<line x1="249.40" y1="677.60" x2="249.40" y2="671.90" stroke="#222" stroke-width="1.3" />
<line x1="245.20" y1="671.90" x2="253.60" y2="671.90" stroke="#222" stroke-width="1.4" />
<text x="253.20" y="739.70" font-size="9.3" text-anchor="end" fill="#232323" transform="rotate(-45 253.20 739.70)"  stroke="#232323" stroke-width="0.18">Red Pulp Mφ</text>
<line x1="273.50" y1="730.10" x2="273.50" y2="733.30" stroke="#0e0e0e" stroke-width="1.2" />
<rect x="266.30" y="719.30" width="14.40" height="10.80" fill="#591f6e" stroke="#3f1450" stroke-width="0.6"/>
<line x1="273.50" y1="719.30" x2="273.50" y2="716.30" stroke="#222" stroke-width="1.3" />
<line x1="269.30" y1="716.30" x2="277.70" y2="716.30" stroke="#222" stroke-width="1.4" />
<text x="277.30" y="739.70" font-size="9.3" text-anchor="end" fill="#232323" transform="rotate(-45 277.30 739.70)"  stroke="#232323" stroke-width="0.18">M-CSF Mφ</text>
<line x1="297.60" y1="730.10" x2="297.60" y2="733.30" stroke="#0e0e0e" stroke-width="1.2" />
<rect x="290.40" y="713.10" width="14.40" height="17.00" fill="#e8921e" stroke="#c07414" stroke-width="0.6"/>
<line x1="297.60" y1="713.10" x2="297.60" y2="709.10" stroke="#222" stroke-width="1.3" />
<line x1="293.40" y1="709.10" x2="301.80" y2="709.10" stroke="#222" stroke-width="1.4" />
<text x="301.40" y="739.70" font-size="9.3" text-anchor="end" fill="#232323" transform="rotate(-45 301.40 739.70)"  stroke="#232323" stroke-width="0.18">GM-CSF Mφ</text>
<text x="250.60" y="639.20" font-size="10.6" text-anchor="middle" fill="#232323" textLength="52.50" lengthAdjust="spacingAndGlyphs"  stroke="#232323" stroke-width="0.18">FcγRIIIa+b</text>
<text x="147.70" y="687.50" font-size="11" text-anchor="middle" fill="#232323" textLength="22.30" lengthAdjust="spacingAndGlyphs" transform="rotate(-90 147.70 687.50)" stroke="#232323" stroke-width="0.3">Δ MFI</text>
<line x1="378.60" y1="182.80" x2="378.60" y2="268.90" stroke="#0e0e0e" stroke-width="1.5" />
<line x1="377.90" y1="268.20" x2="502.00" y2="268.20" stroke="#0e0e0e" stroke-width="1.5" />
<line x1="375.20" y1="268.20" x2="378.60" y2="268.20" stroke="#0e0e0e" stroke-width="1.2" />
<text x="371.10" y="271.50" font-size="9.5" text-anchor="end" fill="#232323" textLength="13.30" lengthAdjust="spacingAndGlyphs"  stroke="#232323" stroke-width="0.18">0.0</text>
<line x1="375.20" y1="247.75" x2="378.60" y2="247.75" stroke="#0e0e0e" stroke-width="1.2" />
<text x="371.10" y="251.05" font-size="9.5" text-anchor="end" fill="#232323" textLength="13.30" lengthAdjust="spacingAndGlyphs"  stroke="#232323" stroke-width="0.18">0.5</text>
<line x1="375.20" y1="227.30" x2="378.60" y2="227.30" stroke="#0e0e0e" stroke-width="1.2" />
<text x="371.10" y="230.60" font-size="9.5" text-anchor="end" fill="#232323" textLength="13.30" lengthAdjust="spacingAndGlyphs"  stroke="#232323" stroke-width="0.18">1.0</text>
<line x1="375.20" y1="206.85" x2="378.60" y2="206.85" stroke="#0e0e0e" stroke-width="1.2" />
<text x="371.10" y="210.15" font-size="9.5" text-anchor="end" fill="#232323" textLength="13.30" lengthAdjust="spacingAndGlyphs"  stroke="#232323" stroke-width="0.18">1.5</text>
<line x1="375.20" y1="186.40" x2="378.60" y2="186.40" stroke="#0e0e0e" stroke-width="1.2" />
<text x="371.10" y="189.70" font-size="9.5" text-anchor="end" fill="#232323" textLength="13.30" lengthAdjust="spacingAndGlyphs"  stroke="#232323" stroke-width="0.18">2.0</text>
<line x1="390.60" y1="268.20" x2="390.60" y2="271.40" stroke="#0e0e0e" stroke-width="1.2" />
<rect x="383.15" y="242.40" width="14.90" height="25.80" fill="#c60f33" stroke="#9c0c2e" stroke-width="0.6"/>
<line x1="390.60" y1="242.40" x2="390.60" y2="232.90" stroke="#222" stroke-width="1.3" />
<line x1="386.40" y1="232.90" x2="394.80" y2="232.90" stroke="#222" stroke-width="1.4" />
<text x="394.40" y="277.80" font-size="9.3" text-anchor="end" fill="#232323" transform="rotate(-45 394.40 277.80)"  stroke="#232323" stroke-width="0.18">Spleen mono</text>
<line x1="415.25" y1="268.20" x2="415.25" y2="271.40" stroke="#0e0e0e" stroke-width="1.2" />
<rect x="407.80" y="250.50" width="14.90" height="17.70" fill="#2c5592" stroke="#1f3f70" stroke-width="0.6"/>
<line x1="415.25" y1="250.50" x2="415.25" y2="245.10" stroke="#222" stroke-width="1.3" />
<line x1="411.05" y1="245.10" x2="419.45" y2="245.10" stroke="#222" stroke-width="1.4" />
<text x="419.05" y="277.80" font-size="9.3" text-anchor="end" fill="#232323" transform="rotate(-45 419.05 277.80)"  stroke="#232323" stroke-width="0.18">Blood mono</text>
<line x1="439.90" y1="268.20" x2="439.90" y2="271.40" stroke="#0e0e0e" stroke-width="1.2" />
<rect x="432.45" y="257.70" width="14.90" height="10.50" fill="#6ab443" stroke="#4f8a30" stroke-width="0.6"/>
<line x1="439.90" y1="257.70" x2="439.90" y2="248.80" stroke="#222" stroke-width="1.3" />
<line x1="435.70" y1="248.80" x2="444.10" y2="248.80" stroke="#222" stroke-width="1.4" />
<text x="443.70" y="277.80" font-size="9.3" text-anchor="end" fill="#232323" transform="rotate(-45 443.70 277.80)"  stroke="#232323" stroke-width="0.18">Red Pulp Mφ</text>
<line x1="464.55" y1="268.20" x2="464.55" y2="271.40" stroke="#0e0e0e" stroke-width="1.2" />
<rect x="457.10" y="243.50" width="14.90" height="24.70" fill="#591f6e" stroke="#3f1450" stroke-width="0.6"/>
<line x1="464.55" y1="243.50" x2="464.55" y2="239.70" stroke="#222" stroke-width="1.3" />
<line x1="460.35" y1="239.70" x2="468.75" y2="239.70" stroke="#222" stroke-width="1.4" />
<text x="468.35" y="277.80" font-size="9.3" text-anchor="end" fill="#232323" transform="rotate(-45 468.35 277.80)"  stroke="#232323" stroke-width="0.18">M-CSF Mφ</text>
<line x1="489.20" y1="268.20" x2="489.20" y2="271.40" stroke="#0e0e0e" stroke-width="1.2" />
<rect x="481.75" y="210.10" width="14.90" height="58.10" fill="#e8921e" stroke="#c07414" stroke-width="0.6"/>
<line x1="489.20" y1="210.10" x2="489.20" y2="203.10" stroke="#222" stroke-width="1.3" />
<line x1="485.00" y1="203.10" x2="493.40" y2="203.10" stroke="#222" stroke-width="1.4" />
<text x="493.00" y="277.80" font-size="9.3" text-anchor="end" fill="#232323" transform="rotate(-45 493.00 277.80)"  stroke="#232323" stroke-width="0.18">GM-CSF Mφ</text>
<text x="440.40" y="176.90" font-size="10.6" text-anchor="middle" fill="#232323" textLength="69.60" lengthAdjust="spacingAndGlyphs"  stroke="#232323" stroke-width="0.18">qPCR FCGR1</text>
<text x="350.20" y="225.60" font-size="8.8" text-anchor="middle" fill="#232323" textLength="65.00" lengthAdjust="spacingAndGlyphs" transform="rotate(-90 350.20 225.60)" stroke="#232323" stroke-width="0.25">Relative expression</text>
<line x1="378.60" y1="337.40" x2="378.60" y2="422.80" stroke="#0e0e0e" stroke-width="1.5" />
<line x1="377.90" y1="422.10" x2="502.00" y2="422.10" stroke="#0e0e0e" stroke-width="1.5" />
<line x1="375.20" y1="422.10" x2="378.60" y2="422.10" stroke="#0e0e0e" stroke-width="1.2" />
<text x="371.10" y="425.40" font-size="9.5" text-anchor="end" fill="#232323" textLength="13.30" lengthAdjust="spacingAndGlyphs"  stroke="#232323" stroke-width="0.18">0.0</text>
<line x1="375.20" y1="405.88" x2="378.60" y2="405.88" stroke="#0e0e0e" stroke-width="1.2" />
<text x="371.10" y="409.18" font-size="9.5" text-anchor="end" fill="#232323" textLength="13.30" lengthAdjust="spacingAndGlyphs"  stroke="#232323" stroke-width="0.18">0.2</text>
<line x1="375.20" y1="389.66" x2="378.60" y2="389.66" stroke="#0e0e0e" stroke-width="1.2" />
<text x="371.10" y="392.96" font-size="9.5" text-anchor="end" fill="#232323" textLength="13.30" lengthAdjust="spacingAndGlyphs"  stroke="#232323" stroke-width="0.18">0.4</text>
<line x1="375.20" y1="373.44" x2="378.60" y2="373.44" stroke="#0e0e0e" stroke-width="1.2" />
<text x="371.10" y="376.74" font-size="9.5" text-anchor="end" fill="#232323" textLength="13.30" lengthAdjust="spacingAndGlyphs"  stroke="#232323" stroke-width="0.18">0.6</text>
<line x1="375.20" y1="357.22" x2="378.60" y2="357.22" stroke="#0e0e0e" stroke-width="1.2" />
<text x="371.10" y="360.52" font-size="9.5" text-anchor="end" fill="#232323" textLength="13.30" lengthAdjust="spacingAndGlyphs"  stroke="#232323" stroke-width="0.18">0.8</text>
<line x1="375.20" y1="341.00" x2="378.60" y2="341.00" stroke="#0e0e0e" stroke-width="1.2" />
<text x="371.10" y="344.30" font-size="9.5" text-anchor="end" fill="#232323" textLength="13.30" lengthAdjust="spacingAndGlyphs"  stroke="#232323" stroke-width="0.18">1.0</text>
<line x1="390.60" y1="422.10" x2="390.60" y2="425.30" stroke="#0e0e0e" stroke-width="1.2" />
<rect x="383.15" y="409.00" width="14.90" height="13.10" fill="#c60f33" stroke="#9c0c2e" stroke-width="0.6"/>
<line x1="390.60" y1="409.00" x2="390.60" y2="404.90" stroke="#222" stroke-width="1.3" />
<line x1="386.40" y1="404.90" x2="394.80" y2="404.90" stroke="#222" stroke-width="1.4" />
<text x="394.40" y="431.70" font-size="9.3" text-anchor="end" fill="#232323" transform="rotate(-45 394.40 431.70)"  stroke="#232323" stroke-width="0.18">Spleen mono</text>
<line x1="415.25" y1="422.10" x2="415.25" y2="425.30" stroke="#0e0e0e" stroke-width="1.2" />
<rect x="407.80" y="412.60" width="14.90" height="9.50" fill="#2c5592" stroke="#1f3f70" stroke-width="0.6"/>
<line x1="415.25" y1="412.60" x2="415.25" y2="409.70" stroke="#222" stroke-width="1.3" />
<line x1="411.05" y1="409.70" x2="419.45" y2="409.70" stroke="#222" stroke-width="1.4" />
<text x="419.05" y="431.70" font-size="9.3" text-anchor="end" fill="#232323" transform="rotate(-45 419.05 431.70)"  stroke="#232323" stroke-width="0.18">Blood mono</text>
<line x1="439.90" y1="422.10" x2="439.90" y2="425.30" stroke="#0e0e0e" stroke-width="1.2" />
<rect x="432.45" y="415.30" width="14.90" height="6.80" fill="#6ab443" stroke="#4f8a30" stroke-width="0.6"/>
<line x1="439.90" y1="415.30" x2="439.90" y2="413.40" stroke="#222" stroke-width="1.3" />
<line x1="435.70" y1="413.40" x2="444.10" y2="413.40" stroke="#222" stroke-width="1.4" />
<text x="443.70" y="431.70" font-size="9.3" text-anchor="end" fill="#232323" transform="rotate(-45 443.70 431.70)"  stroke="#232323" stroke-width="0.18">Red Pulp Mφ</text>
<line x1="464.55" y1="422.10" x2="464.55" y2="425.30" stroke="#0e0e0e" stroke-width="1.2" />
<rect x="457.10" y="405.90" width="14.90" height="16.20" fill="#591f6e" stroke="#3f1450" stroke-width="0.6"/>
<line x1="464.55" y1="405.90" x2="464.55" y2="399.70" stroke="#222" stroke-width="1.3" />
<line x1="460.35" y1="399.70" x2="468.75" y2="399.70" stroke="#222" stroke-width="1.4" />
<text x="468.35" y="431.70" font-size="9.3" text-anchor="end" fill="#232323" transform="rotate(-45 468.35 431.70)"  stroke="#232323" stroke-width="0.18">M-CSF Mφ</text>
<line x1="489.20" y1="422.10" x2="489.20" y2="425.30" stroke="#0e0e0e" stroke-width="1.2" />
<rect x="481.75" y="417.20" width="14.90" height="4.90" fill="#e8921e" stroke="#c07414" stroke-width="0.6"/>
<line x1="489.20" y1="417.20" x2="489.20" y2="414.20" stroke="#222" stroke-width="1.3" />
<line x1="485.00" y1="414.20" x2="493.40" y2="414.20" stroke="#222" stroke-width="1.4" />
<text x="493.00" y="431.70" font-size="9.3" text-anchor="end" fill="#232323" transform="rotate(-45 493.00 431.70)"  stroke="#232323" stroke-width="0.18">GM-CSF Mφ</text>
<text x="440.30" y="331.40" font-size="10.6" text-anchor="middle" fill="#232323" textLength="78.20" lengthAdjust="spacingAndGlyphs"  stroke="#232323" stroke-width="0.18">qPCR FCGR2A</text>
<text x="350.20" y="379.50" font-size="8.8" text-anchor="middle" fill="#232323" textLength="65.00" lengthAdjust="spacingAndGlyphs" transform="rotate(-90 350.20 379.50)" stroke="#232323" stroke-width="0.25">Relative expression</text>
<line x1="378.60" y1="491.70" x2="378.60" y2="577.00" stroke="#0e0e0e" stroke-width="1.5" />
<line x1="377.90" y1="576.30" x2="502.00" y2="576.30" stroke="#0e0e0e" stroke-width="1.5" />
<line x1="375.20" y1="576.30" x2="378.60" y2="576.30" stroke="#0e0e0e" stroke-width="1.2" />
<text x="371.10" y="579.60" font-size="9.5" text-anchor="end" fill="#232323"  stroke="#232323" stroke-width="0.18">0</text>
<line x1="375.20" y1="556.05" x2="378.60" y2="556.05" stroke="#0e0e0e" stroke-width="1.2" />
<text x="371.10" y="559.35" font-size="9.5" text-anchor="end" fill="#232323"  stroke="#232323" stroke-width="0.18">1</text>
<line x1="375.20" y1="535.80" x2="378.60" y2="535.80" stroke="#0e0e0e" stroke-width="1.2" />
<text x="371.10" y="539.10" font-size="9.5" text-anchor="end" fill="#232323"  stroke="#232323" stroke-width="0.18">2</text>
<line x1="375.20" y1="515.55" x2="378.60" y2="515.55" stroke="#0e0e0e" stroke-width="1.2" />
<text x="371.10" y="518.85" font-size="9.5" text-anchor="end" fill="#232323"  stroke="#232323" stroke-width="0.18">3</text>
<line x1="375.20" y1="495.30" x2="378.60" y2="495.30" stroke="#0e0e0e" stroke-width="1.2" />
<text x="371.10" y="498.60" font-size="9.5" text-anchor="end" fill="#232323"  stroke="#232323" stroke-width="0.18">4</text>
<line x1="390.60" y1="576.30" x2="390.60" y2="579.50" stroke="#0e0e0e" stroke-width="1.2" />
<rect x="383.15" y="573.10" width="14.90" height="3.20" fill="#c60f33" stroke="#9c0c2e" stroke-width="0.6"/>
<line x1="390.60" y1="573.10" x2="390.60" y2="570.40" stroke="#222" stroke-width="1.3" />
<line x1="386.40" y1="570.40" x2="394.80" y2="570.40" stroke="#222" stroke-width="1.4" />
<text x="394.40" y="585.90" font-size="9.3" text-anchor="end" fill="#232323" transform="rotate(-45 394.40 585.90)"  stroke="#232323" stroke-width="0.18">Spleen mono</text>
<line x1="415.25" y1="576.30" x2="415.25" y2="579.50" stroke="#0e0e0e" stroke-width="1.2" />
<rect x="407.80" y="573.40" width="14.90" height="2.90" fill="#2c5592" stroke="#1f3f70" stroke-width="0.6"/>
<line x1="415.25" y1="573.40" x2="415.25" y2="571.20" stroke="#222" stroke-width="1.3" />
<line x1="411.05" y1="571.20" x2="419.45" y2="571.20" stroke="#222" stroke-width="1.4" />
<text x="419.05" y="585.90" font-size="9.3" text-anchor="end" fill="#232323" transform="rotate(-45 419.05 585.90)"  stroke="#232323" stroke-width="0.18">Blood mono</text>
<line x1="439.90" y1="576.30" x2="439.90" y2="579.50" stroke="#0e0e0e" stroke-width="1.2" />
<line x1="439.90" y1="576.00" x2="439.90" y2="575.60" stroke="#222" stroke-width="1.3" />
<line x1="435.70" y1="575.60" x2="444.10" y2="575.60" stroke="#222" stroke-width="1.4" />
<text x="443.70" y="585.90" font-size="9.3" text-anchor="end" fill="#232323" transform="rotate(-45 443.70 585.90)"  stroke="#232323" stroke-width="0.18">Red Pulp Mφ</text>
<line x1="464.55" y1="576.30" x2="464.55" y2="579.50" stroke="#0e0e0e" stroke-width="1.2" />
<rect x="457.10" y="526.80" width="14.90" height="49.50" fill="#591f6e" stroke="#3f1450" stroke-width="0.6"/>
<line x1="464.55" y1="526.80" x2="464.55" y2="511.20" stroke="#222" stroke-width="1.3" />
<line x1="460.35" y1="511.20" x2="468.75" y2="511.20" stroke="#222" stroke-width="1.4" />
<text x="468.35" y="585.90" font-size="9.3" text-anchor="end" fill="#232323" transform="rotate(-45 468.35 585.90)"  stroke="#232323" stroke-width="0.18">M-CSF Mφ</text>
<line x1="489.20" y1="576.30" x2="489.20" y2="579.50" stroke="#0e0e0e" stroke-width="1.2" />
<rect x="481.75" y="557.50" width="14.90" height="18.80" fill="#e8921e" stroke="#c07414" stroke-width="0.6"/>
<line x1="489.20" y1="557.50" x2="489.20" y2="551.60" stroke="#222" stroke-width="1.3" />
<line x1="485.00" y1="551.60" x2="493.40" y2="551.60" stroke="#222" stroke-width="1.4" />
<text x="493.00" y="585.90" font-size="9.3" text-anchor="end" fill="#232323" transform="rotate(-45 493.00 585.90)"  stroke="#232323" stroke-width="0.18">GM-CSF Mφ</text>
<text x="440.30" y="486.00" font-size="10.6" text-anchor="middle" fill="#232323" textLength="79.40" lengthAdjust="spacingAndGlyphs"  stroke="#232323" stroke-width="0.18">qPCR FCGR2B</text>
<text x="357.60" y="533.70" font-size="8.8" text-anchor="middle" fill="#232323" textLength="65.00" lengthAdjust="spacingAndGlyphs" transform="rotate(-90 357.60 533.70)" stroke="#232323" stroke-width="0.25">Relative expression</text>
<line x1="378.60" y1="645.90" x2="378.60" y2="731.00" stroke="#0e0e0e" stroke-width="1.5" />
<line x1="377.90" y1="730.30" x2="502.00" y2="730.30" stroke="#0e0e0e" stroke-width="1.5" />
<line x1="375.20" y1="730.30" x2="378.60" y2="730.30" stroke="#0e0e0e" stroke-width="1.2" />
<text x="371.10" y="733.60" font-size="9.5" text-anchor="end" fill="#232323"  stroke="#232323" stroke-width="0.18">0</text>
<line x1="375.20" y1="714.14" x2="378.60" y2="714.14" stroke="#0e0e0e" stroke-width="1.2" />
<text x="371.10" y="717.44" font-size="9.5" text-anchor="end" fill="#232323"  stroke="#232323" stroke-width="0.18">1</text>
<line x1="375.20" y1="697.98" x2="378.60" y2="697.98" stroke="#0e0e0e" stroke-width="1.2" />
<text x="371.10" y="701.28" font-size="9.5" text-anchor="end" fill="#232323"  stroke="#232323" stroke-width="0.18">2</text>
<line x1="375.20" y1="681.82" x2="378.60" y2="681.82" stroke="#0e0e0e" stroke-width="1.2" />
<text x="371.10" y="685.12" font-size="9.5" text-anchor="end" fill="#232323"  stroke="#232323" stroke-width="0.18">3</text>
<line x1="375.20" y1="665.66" x2="378.60" y2="665.66" stroke="#0e0e0e" stroke-width="1.2" />
<text x="371.10" y="668.96" font-size="9.5" text-anchor="end" fill="#232323"  stroke="#232323" stroke-width="0.18">4</text>
<line x1="375.20" y1="649.50" x2="378.60" y2="649.50" stroke="#0e0e0e" stroke-width="1.2" />
<text x="371.10" y="652.80" font-size="9.5" text-anchor="end" fill="#232323"  stroke="#232323" stroke-width="0.18">5</text>
<line x1="390.60" y1="730.30" x2="390.60" y2="733.50" stroke="#0e0e0e" stroke-width="1.2" />
<rect x="383.15" y="721.40" width="14.90" height="8.90" fill="#c60f33" stroke="#9c0c2e" stroke-width="0.6"/>
<line x1="390.60" y1="721.40" x2="390.60" y2="716.00" stroke="#222" stroke-width="1.3" />
<line x1="386.40" y1="716.00" x2="394.80" y2="716.00" stroke="#222" stroke-width="1.4" />
<text x="394.40" y="739.90" font-size="9.3" text-anchor="end" fill="#232323" transform="rotate(-45 394.40 739.90)"  stroke="#232323" stroke-width="0.18">Spleen mono</text>
<line x1="415.25" y1="730.30" x2="415.25" y2="733.50" stroke="#0e0e0e" stroke-width="1.2" />
<rect x="407.80" y="728.10" width="14.90" height="2.20" fill="#2c5592" stroke="#1f3f70" stroke-width="0.6"/>
<line x1="415.25" y1="728.10" x2="415.25" y2="726.80" stroke="#222" stroke-width="1.3" />
<line x1="411.05" y1="726.80" x2="419.45" y2="726.80" stroke="#222" stroke-width="1.4" />
<text x="419.05" y="739.90" font-size="9.3" text-anchor="end" fill="#232323" transform="rotate(-45 419.05 739.90)"  stroke="#232323" stroke-width="0.18">Blood mono</text>
<line x1="439.90" y1="730.30" x2="439.90" y2="733.50" stroke="#0e0e0e" stroke-width="1.2" />
<rect x="432.45" y="669.70" width="14.90" height="60.60" fill="#6ab443" stroke="#4f8a30" stroke-width="0.6"/>
<line x1="439.90" y1="669.70" x2="439.90" y2="660.30" stroke="#222" stroke-width="1.3" />
<line x1="435.70" y1="660.30" x2="444.10" y2="660.30" stroke="#222" stroke-width="1.4" />
<text x="443.70" y="739.90" font-size="9.3" text-anchor="end" fill="#232323" transform="rotate(-45 443.70 739.90)"  stroke="#232323" stroke-width="0.18">Red Pulp Mφ</text>
<line x1="464.55" y1="730.30" x2="464.55" y2="733.50" stroke="#0e0e0e" stroke-width="1.2" />
<rect x="457.10" y="729.50" width="14.90" height="0.80" fill="#591f6e" stroke="#3f1450" stroke-width="0.6"/>
<line x1="464.55" y1="729.50" x2="464.55" y2="728.10" stroke="#222" stroke-width="1.3" />
<line x1="460.35" y1="728.10" x2="468.75" y2="728.10" stroke="#222" stroke-width="1.4" />
<text x="468.35" y="739.90" font-size="9.3" text-anchor="end" fill="#232323" transform="rotate(-45 468.35 739.90)"  stroke="#232323" stroke-width="0.18">M-CSF Mφ</text>
<line x1="489.20" y1="730.30" x2="489.20" y2="733.50" stroke="#0e0e0e" stroke-width="1.2" />
<rect x="481.75" y="724.10" width="14.90" height="6.20" fill="#e8921e" stroke="#c07414" stroke-width="0.6"/>
<line x1="489.20" y1="724.10" x2="489.20" y2="719.20" stroke="#222" stroke-width="1.3" />
<line x1="485.00" y1="719.20" x2="493.40" y2="719.20" stroke="#222" stroke-width="1.4" />
<text x="493.00" y="739.90" font-size="9.3" text-anchor="end" fill="#232323" transform="rotate(-45 493.00 739.90)"  stroke="#232323" stroke-width="0.18">GM-CSF Mφ</text>
<text x="440.00" y="640.00" font-size="10.6" text-anchor="middle" fill="#232323" textLength="78.80" lengthAdjust="spacingAndGlyphs"  stroke="#232323" stroke-width="0.18">qPCR FCGR3A</text>
<text x="357.60" y="687.70" font-size="8.8" text-anchor="middle" fill="#232323" textLength="65.00" lengthAdjust="spacingAndGlyphs" transform="rotate(-90 357.60 687.70)" stroke="#232323" stroke-width="0.25">Relative expression</text>
</svg>
</body></html>
